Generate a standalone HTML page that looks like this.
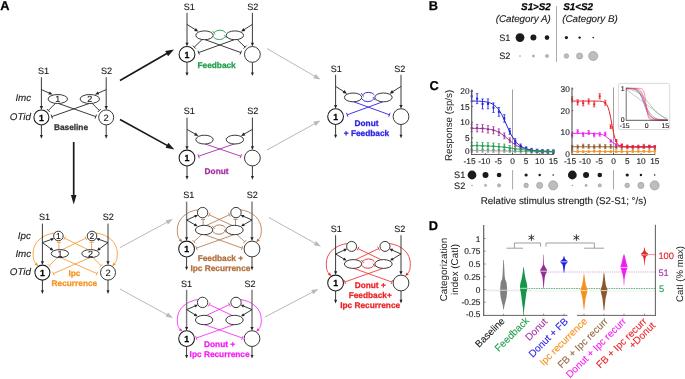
<!DOCTYPE html>
<html><head><meta charset="utf-8"><title>Figure</title>
<style>html,body{margin:0;padding:0;background:#fff;overflow:hidden}body{width:685px;height:379px;font-family:"Liberation Sans",sans-serif}svg{display:block;will-change:transform}text{font-family:"Liberation Sans",sans-serif;text-rendering:geometricPrecision}</style></head>
<body>
<svg width="685" height="379" viewBox="0 0 685 379" font-family="Liberation Sans, sans-serif">
<rect width="685" height="379" fill="#fff"/>
<text x="0.3" y="9.8" font-size="12.8" text-anchor="start" font-weight="bold" font-style="normal" fill="#000" stroke="#000" stroke-width="0.25" >A</text>
<text x="43.6" y="74" font-size="9.1" text-anchor="middle" font-weight="normal" font-style="normal" fill="#1a1a1a" stroke="#1a1a1a" stroke-width="0.12" >S1</text>
<text x="106.5" y="74" font-size="9.1" text-anchor="middle" font-weight="normal" font-style="normal" fill="#1a1a1a" stroke="#1a1a1a" stroke-width="0.12" >S2</text>
<line x1="58.2" y1="103.4" x2="95.8" y2="116.6" stroke="#242424" stroke-width="0.9" />
<line x1="95.1" y1="118.58" x2="96.5" y2="114.62" stroke="#242424" stroke-width="0.9" />
<line x1="89.4" y1="103.4" x2="51.8" y2="116.6" stroke="#242424" stroke-width="0.9" />
<line x1="51.1" y1="114.62" x2="52.5" y2="118.58" stroke="#242424" stroke-width="0.9" />
<line x1="55.6" y1="103.2" x2="48.3" y2="110.5" stroke="#242424" stroke-width="0.9" />
<line x1="46.82" y1="109.02" x2="49.78" y2="111.98" stroke="#242424" stroke-width="0.9" />
<line x1="92" y1="103.2" x2="99.3" y2="110.5" stroke="#242424" stroke-width="0.9" />
<line x1="97.82" y1="111.98" x2="100.78" y2="109.02" stroke="#242424" stroke-width="0.9" />
<line x1="41.4" y1="77.2" x2="41.4" y2="106.9" stroke="#242424" stroke-width="0.9" />
<line x1="106.2" y1="77.2" x2="106.2" y2="106.9" stroke="#242424" stroke-width="0.9" />
<polygon points="41.4,109.9 39.8,106.1 43,106.1" fill="#242424"/>
<polygon points="106.2,109.9 104.6,106.1 107.8,106.1" fill="#242424"/>
<line x1="41.4" y1="89.6" x2="49.77" y2="93.31" stroke="#242424" stroke-width="0.9" />
<polygon points="52.7,94.6 48.35,94.54 49.73,91.43" fill="#242424"/>
<line x1="106.2" y1="89.6" x2="97.83" y2="93.31" stroke="#242424" stroke-width="0.9" />
<polygon points="94.9,94.6 97.87,91.43 99.25,94.54" fill="#242424"/>
<line x1="41.4" y1="124.9" x2="41.4" y2="135.82" stroke="#242424" stroke-width="0.9" />
<polygon points="41.4,138.7 39.9,135.1 42.9,135.1" fill="#242424"/>
<line x1="106.2" y1="124.9" x2="106.2" y2="135.82" stroke="#242424" stroke-width="0.9" />
<polygon points="106.2,138.7 104.7,135.1 107.7,135.1" fill="#242424"/>
<ellipse cx="57.8" cy="99" rx="9.7" ry="4.5" fill="#fff" stroke="#242424" stroke-width="0.9"/>
<ellipse cx="89.8" cy="99" rx="9.7" ry="4.5" fill="#fff" stroke="#242424" stroke-width="0.9"/>
<circle cx="41.4" cy="117.4" r="7.5" fill="#fff" stroke="#1c1c1c" stroke-width="1.05"/>
<circle cx="106.2" cy="117.4" r="7.5" fill="#fff" stroke="#242424" stroke-width="0.9"/>
<text x="41.4" y="120.5" font-size="8.8" text-anchor="middle" font-weight="bold" font-style="normal" fill="#000" stroke="#000" stroke-width="0.25" >1</text>
<text x="106.2" y="120.7" font-size="9.4" text-anchor="middle" font-weight="normal" font-style="normal" fill="#1a1a1a" stroke="#1a1a1a" stroke-width="0.12" >2</text>
<text x="57.8" y="102.1" font-size="9.0" text-anchor="middle" font-weight="normal" font-style="normal" fill="#1a1a1a" stroke="#1a1a1a" stroke-width="0.12" >1</text>
<text x="89.8" y="102.1" font-size="9.0" text-anchor="middle" font-weight="normal" font-style="normal" fill="#1a1a1a" stroke="#1a1a1a" stroke-width="0.12" >2</text>
<text x="71" y="129.6" font-size="8.3" text-anchor="middle" font-weight="bold" font-style="normal" fill="#333" stroke="#333" stroke-width="0.25" >Baseline</text>
<text x="15.4" y="101" font-size="9.8" text-anchor="start" font-weight="normal" font-style="italic" fill="#1a1a1a" stroke="#1a1a1a" stroke-width="0.12" >Imc</text>
<text x="9.8" y="120.4" font-size="9.8" text-anchor="start" font-weight="normal" font-style="italic" fill="#1a1a1a" stroke="#1a1a1a" stroke-width="0.12" >OTid</text>
<text x="189.2" y="9.6" font-size="9.1" text-anchor="middle" font-weight="normal" font-style="normal" fill="#1a1a1a" stroke="#1a1a1a" stroke-width="0.12" >S1</text>
<text x="252.7" y="9.6" font-size="9.1" text-anchor="middle" font-weight="normal" font-style="normal" fill="#1a1a1a" stroke="#1a1a1a" stroke-width="0.12" >S2</text>
<line x1="204.9" y1="39.6" x2="240.8" y2="52.6" stroke="#242424" stroke-width="0.9" />
<line x1="240.08" y1="54.57" x2="241.52" y2="50.63" stroke="#242424" stroke-width="0.9" />
<line x1="234.5" y1="39.6" x2="198.6" y2="52.6" stroke="#242424" stroke-width="0.9" />
<line x1="197.88" y1="50.63" x2="199.32" y2="54.57" stroke="#242424" stroke-width="0.9" />
<line x1="202.3" y1="39.4" x2="194.3" y2="47.1" stroke="#242424" stroke-width="0.9" />
<line x1="192.84" y1="45.59" x2="195.76" y2="48.61" stroke="#242424" stroke-width="0.9" />
<line x1="237.1" y1="39.4" x2="245.1" y2="47.1" stroke="#242424" stroke-width="0.9" />
<line x1="243.64" y1="48.61" x2="246.56" y2="45.59" stroke="#242424" stroke-width="0.9" />
<line x1="187" y1="12.8" x2="187" y2="43.5" stroke="#242424" stroke-width="0.9" />
<line x1="252.4" y1="12.8" x2="252.4" y2="43.5" stroke="#242424" stroke-width="0.9" />
<polygon points="187,46.5 185.4,42.7 188.6,42.7" fill="#242424"/>
<polygon points="252.4,46.5 250.8,42.7 254,42.7" fill="#242424"/>
<line x1="187" y1="24.4" x2="195.69" y2="29.89" stroke="#242424" stroke-width="0.9" />
<polygon points="198.4,31.6 194.11,30.9 195.93,28.03" fill="#242424"/>
<line x1="252.4" y1="24.4" x2="243.71" y2="29.89" stroke="#242424" stroke-width="0.9" />
<polygon points="241,31.6 243.47,28.03 245.29,30.9" fill="#242424"/>
<line x1="187" y1="62.3" x2="187" y2="73.22" stroke="#242424" stroke-width="0.9" />
<polygon points="187,76.1 185.5,72.5 188.5,72.5" fill="#242424"/>
<line x1="252.4" y1="62.3" x2="252.4" y2="73.22" stroke="#242424" stroke-width="0.9" />
<polygon points="252.4,76.1 250.9,72.5 253.9,72.5" fill="#242424"/>
<ellipse cx="204.5" cy="35.3" rx="8.7" ry="4.4" fill="#fff" stroke="#242424" stroke-width="0.9"/>
<ellipse cx="234.9" cy="35.3" rx="8.7" ry="4.4" fill="#fff" stroke="#242424" stroke-width="0.9"/>
<path d="M225.8,32.9 A6.6,4.9 0 0 0 214.3,32.5" fill="none" stroke="#1f9e4d" stroke-width="0.9" />
<line x1="212.7" y1="31.1" x2="215" y2="34.4" stroke="#1f9e4d" stroke-width="0.9" />
<path d="M213.4,37 A6.6,4.9 0 0 0 225.1,36.9" fill="none" stroke="#1f9e4d" stroke-width="0.9" />
<line x1="224.3" y1="34.9" x2="226.6" y2="38.1" stroke="#1f9e4d" stroke-width="0.9" />
<circle cx="187" cy="54.4" r="7.9" fill="#fff" stroke="#1c1c1c" stroke-width="1.05"/>
<circle cx="252.4" cy="54.4" r="7.9" fill="#fff" stroke="#242424" stroke-width="0.9"/>
<text x="187" y="57.5" font-size="8.8" text-anchor="middle" font-weight="bold" font-style="normal" fill="#000" stroke="#000" stroke-width="0.25" >1</text>
<text x="216.6" y="68.1" font-size="8.3" text-anchor="middle" font-weight="bold" font-style="normal" fill="#1f9e4d" stroke="#1f9e4d" stroke-width="0.25" >Feedback</text>
<text x="189.2" y="114.4" font-size="9.1" text-anchor="middle" font-weight="normal" font-style="normal" fill="#1a1a1a" stroke="#1a1a1a" stroke-width="0.12" >S1</text>
<text x="252.7" y="114.4" font-size="9.1" text-anchor="middle" font-weight="normal" font-style="normal" fill="#1a1a1a" stroke="#1a1a1a" stroke-width="0.12" >S2</text>
<line x1="204.9" y1="143.9" x2="240.8" y2="156.2" stroke="#a12fa3" stroke-width="0.9" />
<line x1="240.12" y1="158.19" x2="241.48" y2="154.21" stroke="#a12fa3" stroke-width="0.9" />
<line x1="234.5" y1="143.9" x2="198.6" y2="156.2" stroke="#a12fa3" stroke-width="0.9" />
<line x1="197.92" y1="154.21" x2="199.28" y2="158.19" stroke="#a12fa3" stroke-width="0.9" />
<line x1="187" y1="117.6" x2="187" y2="147.1" stroke="#242424" stroke-width="0.9" />
<line x1="252.4" y1="117.6" x2="252.4" y2="147.1" stroke="#242424" stroke-width="0.9" />
<polygon points="187,150.1 185.4,146.3 188.6,146.3" fill="#242424"/>
<polygon points="252.4,150.1 250.8,146.3 254,146.3" fill="#242424"/>
<line x1="187" y1="129.4" x2="195.62" y2="134.31" stroke="#242424" stroke-width="0.9" />
<polygon points="198.4,135.9 194.08,135.4 195.77,132.44" fill="#242424"/>
<line x1="252.4" y1="129.4" x2="243.78" y2="134.31" stroke="#242424" stroke-width="0.9" />
<polygon points="241,135.9 243.63,132.44 245.32,135.4" fill="#242424"/>
<line x1="187" y1="165.9" x2="187" y2="176.82" stroke="#242424" stroke-width="0.9" />
<polygon points="187,179.7 185.5,176.1 188.5,176.1" fill="#242424"/>
<line x1="252.4" y1="165.9" x2="252.4" y2="176.82" stroke="#242424" stroke-width="0.9" />
<polygon points="252.4,179.7 250.9,176.1 253.9,176.1" fill="#242424"/>
<ellipse cx="204.5" cy="139.6" rx="8.7" ry="4.4" fill="#fff" stroke="#242424" stroke-width="0.9"/>
<ellipse cx="234.9" cy="139.6" rx="8.7" ry="4.4" fill="#fff" stroke="#242424" stroke-width="0.9"/>
<circle cx="187" cy="158" r="7.9" fill="#fff" stroke="#1c1c1c" stroke-width="1.05"/>
<circle cx="252.4" cy="158" r="7.9" fill="#fff" stroke="#242424" stroke-width="0.9"/>
<text x="187" y="161.1" font-size="8.8" text-anchor="middle" font-weight="bold" font-style="normal" fill="#000" stroke="#000" stroke-width="0.25" >1</text>
<text x="216.6" y="174.4" font-size="8.3" text-anchor="middle" font-weight="bold" font-style="normal" fill="#a12fa3" stroke="#a12fa3" stroke-width="0.25" >Donut</text>
<text x="336.3" y="71.6" font-size="9.1" text-anchor="middle" font-weight="normal" font-style="normal" fill="#1a1a1a" stroke="#1a1a1a" stroke-width="0.12" >S1</text>
<text x="399.8" y="71.6" font-size="9.1" text-anchor="middle" font-weight="normal" font-style="normal" fill="#1a1a1a" stroke="#1a1a1a" stroke-width="0.12" >S2</text>
<line x1="353.5" y1="101.7" x2="389.4" y2="114.8" stroke="#2a22e6" stroke-width="0.9" />
<line x1="388.68" y1="116.77" x2="390.12" y2="112.83" stroke="#2a22e6" stroke-width="0.9" />
<line x1="383.1" y1="101.7" x2="347.2" y2="114.8" stroke="#2a22e6" stroke-width="0.9" />
<line x1="346.48" y1="112.83" x2="347.92" y2="116.77" stroke="#2a22e6" stroke-width="0.9" />
<line x1="335.6" y1="74.8" x2="335.6" y2="105.7" stroke="#242424" stroke-width="0.9" />
<line x1="401" y1="74.8" x2="401" y2="105.7" stroke="#242424" stroke-width="0.9" />
<polygon points="335.6,108.7 334,104.9 337.2,104.9" fill="#242424"/>
<polygon points="401,108.7 399.4,104.9 402.6,104.9" fill="#242424"/>
<line x1="335.6" y1="86.4" x2="344.31" y2="91.97" stroke="#242424" stroke-width="0.9" />
<polygon points="347,93.7 342.71,92.97 344.55,90.11" fill="#242424"/>
<line x1="401" y1="86.4" x2="392.29" y2="91.97" stroke="#242424" stroke-width="0.9" />
<polygon points="389.6,93.7 392.05,90.11 393.89,92.97" fill="#242424"/>
<line x1="335.6" y1="124.5" x2="335.6" y2="135.42" stroke="#242424" stroke-width="0.9" />
<polygon points="335.6,138.3 334.1,134.7 337.1,134.7" fill="#242424"/>
<line x1="401" y1="124.5" x2="401" y2="135.42" stroke="#242424" stroke-width="0.9" />
<polygon points="401,138.3 399.5,134.7 402.5,134.7" fill="#242424"/>
<ellipse cx="353.1" cy="97.4" rx="8.7" ry="4.4" fill="#fff" stroke="#242424" stroke-width="0.9"/>
<ellipse cx="383.5" cy="97.4" rx="8.7" ry="4.4" fill="#fff" stroke="#242424" stroke-width="0.9"/>
<path d="M374.4,95 A6.6,4.9 0 0 0 362.9,94.6" fill="none" stroke="#2a22e6" stroke-width="0.9" />
<line x1="361.3" y1="93.2" x2="363.6" y2="96.5" stroke="#2a22e6" stroke-width="0.9" />
<path d="M362,99.1 A6.6,4.9 0 0 0 373.7,99" fill="none" stroke="#2a22e6" stroke-width="0.9" />
<line x1="372.9" y1="97" x2="375.2" y2="100.2" stroke="#2a22e6" stroke-width="0.9" />
<circle cx="335.6" cy="116.6" r="7.9" fill="#fff" stroke="#1c1c1c" stroke-width="1.05"/>
<circle cx="401" cy="116.6" r="7.9" fill="#fff" stroke="#242424" stroke-width="0.9"/>
<text x="335.6" y="119.7" font-size="8.8" text-anchor="middle" font-weight="bold" font-style="normal" fill="#000" stroke="#000" stroke-width="0.25" >1</text>
<text x="366.5" y="126" font-size="8.3" text-anchor="middle" font-weight="bold" font-style="normal" fill="#2a22e6" stroke="#2a22e6" stroke-width="0.25" >Donut</text>
<text x="366.5" y="136" font-size="8.3" text-anchor="middle" font-weight="bold" font-style="normal" fill="#2a22e6" stroke="#2a22e6" stroke-width="0.25" >+ Feedback</text>
<text x="44.6" y="220.4" font-size="9.1" text-anchor="middle" font-weight="normal" font-style="normal" fill="#1a1a1a" stroke="#1a1a1a" stroke-width="0.12" >S1</text>
<text x="108.3" y="220.4" font-size="9.1" text-anchor="middle" font-weight="normal" font-style="normal" fill="#1a1a1a" stroke="#1a1a1a" stroke-width="0.12" >S2</text>
<path d="M54.9,233 C41.4,234.5 33.1,243 33.1,253.1 C33.1,260.1 34.4,262.1 36.6,264.5" fill="none" stroke="#f6921e" stroke-width="0.8" />
<polygon points="38.2,266 34.69,264.77 36.75,262.58" fill="#f6921e"/>
<path d="M95.5,233 C109,234.5 117.3,243 117.3,253.1 C117.3,260.1 116,262.1 113.8,264.5" fill="none" stroke="#f6921e" stroke-width="0.8" />
<polygon points="112.2,266 113.65,262.58 115.71,264.77" fill="#f6921e"/>
<line x1="61.9" y1="249.9" x2="85.8" y2="238.2" stroke="#f6921e" stroke-width="0.8" />
<line x1="86.72" y1="240.09" x2="84.88" y2="236.31" stroke="#f6921e" stroke-width="0.8" />
<line x1="88.5" y1="249.9" x2="64.6" y2="238.2" stroke="#f6921e" stroke-width="0.8" />
<line x1="65.52" y1="236.31" x2="63.68" y2="240.09" stroke="#f6921e" stroke-width="0.8" />
<line x1="58.9" y1="249.6" x2="58.9" y2="242.4" stroke="#f6921e" stroke-width="0.8" />
<line x1="61" y1="242.4" x2="56.8" y2="242.4" stroke="#f6921e" stroke-width="0.8" />
<line x1="91.5" y1="249.6" x2="91.5" y2="242.4" stroke="#f6921e" stroke-width="0.8" />
<line x1="93.6" y1="242.4" x2="89.4" y2="242.4" stroke="#f6921e" stroke-width="0.8" />
<line x1="60.3" y1="257.5" x2="97" y2="273.6" stroke="#f6921e" stroke-width="0.8" />
<line x1="96.16" y1="275.52" x2="97.84" y2="271.68" stroke="#f6921e" stroke-width="0.8" />
<line x1="90.1" y1="257.5" x2="53.4" y2="273.6" stroke="#f6921e" stroke-width="0.8" />
<line x1="52.56" y1="271.68" x2="54.24" y2="275.52" stroke="#f6921e" stroke-width="0.8" />
<line x1="57.7" y1="257.3" x2="49.3" y2="265.7" stroke="#f6921e" stroke-width="0.8" />
<line x1="47.82" y1="264.22" x2="50.78" y2="267.18" stroke="#f6921e" stroke-width="0.8" />
<line x1="92.7" y1="257.3" x2="101.1" y2="265.7" stroke="#f6921e" stroke-width="0.8" />
<line x1="99.62" y1="267.18" x2="102.58" y2="264.22" stroke="#f6921e" stroke-width="0.8" />
<line x1="42.4" y1="223.6" x2="42.4" y2="262.1" stroke="#242424" stroke-width="0.9" />
<line x1="108" y1="223.6" x2="108" y2="262.1" stroke="#242424" stroke-width="0.9" />
<polygon points="42.4,265.1 40.8,261.3 44,261.3" fill="#242424"/>
<polygon points="108,265.1 106.4,261.3 109.6,261.3" fill="#242424"/>
<line x1="42.4" y1="242.6" x2="51.64" y2="239.31" stroke="#242424" stroke-width="0.9" />
<polygon points="54.2,238.4 51.53,241.05 50.46,238.03" fill="#242424"/>
<line x1="108" y1="242.6" x2="98.76" y2="239.31" stroke="#242424" stroke-width="0.9" />
<polygon points="96.2,238.4 99.94,238.03 98.87,241.05" fill="#242424"/>
<line x1="42.4" y1="242.6" x2="51.2" y2="249" stroke="#242424" stroke-width="0.9" />
<polygon points="53.4,250.6 49.71,249.89 51.59,247.31" fill="#242424"/>
<line x1="108" y1="242.6" x2="99.2" y2="249" stroke="#242424" stroke-width="0.9" />
<polygon points="97,250.6 98.81,247.31 100.69,249.89" fill="#242424"/>
<line x1="42.4" y1="280.1" x2="42.4" y2="291.02" stroke="#242424" stroke-width="0.9" />
<polygon points="42.4,293.9 40.9,290.3 43.9,290.3" fill="#242424"/>
<line x1="108" y1="280.1" x2="108" y2="291.02" stroke="#242424" stroke-width="0.9" />
<polygon points="108,293.9 106.5,290.3 109.5,290.3" fill="#242424"/>
<ellipse cx="59.9" cy="253.6" rx="8.7" ry="4" fill="#fff" stroke="#242424" stroke-width="0.9"/>
<ellipse cx="90.5" cy="253.6" rx="8.7" ry="4" fill="#fff" stroke="#242424" stroke-width="0.9"/>
<circle cx="58.4" cy="236" r="4.8" fill="#fff" stroke="#242424" stroke-width="0.9"/>
<circle cx="92" cy="236" r="4.8" fill="#fff" stroke="#242424" stroke-width="0.9"/>
<circle cx="42.4" cy="272.6" r="7.5" fill="#fff" stroke="#1c1c1c" stroke-width="1.05"/>
<circle cx="108" cy="272.6" r="7.5" fill="#fff" stroke="#242424" stroke-width="0.9"/>
<text x="42.4" y="275.7" font-size="8.8" text-anchor="middle" font-weight="bold" font-style="normal" fill="#000" stroke="#000" stroke-width="0.25" >1</text>
<text x="108" y="275.9" font-size="9.4" text-anchor="middle" font-weight="normal" font-style="normal" fill="#1a1a1a" stroke="#1a1a1a" stroke-width="0.12" >2</text>
<text x="59.9" y="256.7" font-size="9.0" text-anchor="middle" font-weight="normal" font-style="normal" fill="#1a1a1a" stroke="#1a1a1a" stroke-width="0.12" >1</text>
<text x="90.5" y="256.7" font-size="9.0" text-anchor="middle" font-weight="normal" font-style="normal" fill="#1a1a1a" stroke="#1a1a1a" stroke-width="0.12" >2</text>
<text x="58.4" y="239" font-size="8.6" text-anchor="middle" font-weight="normal" font-style="normal" fill="#1a1a1a" stroke="#1a1a1a" stroke-width="0.12" >1</text>
<text x="92" y="239" font-size="8.6" text-anchor="middle" font-weight="normal" font-style="normal" fill="#1a1a1a" stroke="#1a1a1a" stroke-width="0.12" >2</text>
<text x="74.4" y="276.4" font-size="8.3" text-anchor="middle" font-weight="bold" font-style="normal" fill="#f6921e" stroke="#f6921e" stroke-width="0.25" >Ipc</text>
<text x="74.4" y="286.4" font-size="8.3" text-anchor="middle" font-weight="bold" font-style="normal" fill="#f6921e" stroke="#f6921e" stroke-width="0.25" >Recurrence</text>
<text x="17.8" y="239" font-size="9.8" text-anchor="start" font-weight="normal" font-style="italic" fill="#1a1a1a" stroke="#1a1a1a" stroke-width="0.12" >Ipc</text>
<text x="15.4" y="256.6" font-size="9.8" text-anchor="start" font-weight="normal" font-style="italic" fill="#1a1a1a" stroke="#1a1a1a" stroke-width="0.12" >Imc</text>
<text x="9.8" y="275" font-size="9.8" text-anchor="start" font-weight="normal" font-style="italic" fill="#1a1a1a" stroke="#1a1a1a" stroke-width="0.12" >OTid</text>
<text x="188.8" y="198.4" font-size="9.1" text-anchor="middle" font-weight="normal" font-style="normal" fill="#1a1a1a" stroke="#1a1a1a" stroke-width="0.12" >S1</text>
<text x="252.3" y="198.4" font-size="9.1" text-anchor="middle" font-weight="normal" font-style="normal" fill="#1a1a1a" stroke="#1a1a1a" stroke-width="0.12" >S2</text>
<path d="M199.1,209.6 C185.6,211.1 177.3,219.6 177.3,229.5 C177.3,236.5 178.6,238.1 180.8,240.5" fill="none" stroke="#b06f3d" stroke-width="0.8" />
<polygon points="182.4,242 178.89,240.77 180.95,238.58" fill="#b06f3d"/>
<path d="M239.5,209.6 C253,211.1 261.3,219.6 261.3,229.5 C261.3,236.5 260,238.1 257.8,240.5" fill="none" stroke="#b06f3d" stroke-width="0.8" />
<polygon points="256.2,242 257.65,238.58 259.71,240.77" fill="#b06f3d"/>
<line x1="206.1" y1="225.6" x2="229.4" y2="214.8" stroke="#b06f3d" stroke-width="0.8" />
<line x1="230.28" y1="216.71" x2="228.52" y2="212.89" stroke="#b06f3d" stroke-width="0.8" />
<line x1="232.5" y1="225.6" x2="209.2" y2="214.8" stroke="#b06f3d" stroke-width="0.8" />
<line x1="210.08" y1="212.89" x2="208.32" y2="216.71" stroke="#b06f3d" stroke-width="0.8" />
<line x1="203.1" y1="225.3" x2="203.1" y2="219.4" stroke="#b06f3d" stroke-width="0.8" />
<line x1="205.2" y1="219.4" x2="201" y2="219.4" stroke="#b06f3d" stroke-width="0.8" />
<line x1="235.5" y1="225.3" x2="235.5" y2="219.4" stroke="#b06f3d" stroke-width="0.8" />
<line x1="237.6" y1="219.4" x2="233.4" y2="219.4" stroke="#b06f3d" stroke-width="0.8" />
<line x1="204.5" y1="234.6" x2="242.1" y2="248.1" stroke="#b06f3d" stroke-width="0.8" />
<line x1="241.39" y1="250.08" x2="242.81" y2="246.12" stroke="#b06f3d" stroke-width="0.8" />
<line x1="234.1" y1="234.6" x2="196.5" y2="248.1" stroke="#b06f3d" stroke-width="0.8" />
<line x1="195.79" y1="246.12" x2="197.21" y2="250.08" stroke="#b06f3d" stroke-width="0.8" />
<line x1="201.9" y1="234.4" x2="193.9" y2="241.7" stroke="#b06f3d" stroke-width="0.8" />
<line x1="192.48" y1="240.15" x2="195.32" y2="243.25" stroke="#b06f3d" stroke-width="0.8" />
<line x1="236.7" y1="234.4" x2="244.7" y2="241.7" stroke="#b06f3d" stroke-width="0.8" />
<line x1="243.28" y1="243.25" x2="246.12" y2="240.15" stroke="#b06f3d" stroke-width="0.8" />
<line x1="186.6" y1="201.6" x2="186.6" y2="238.1" stroke="#777" stroke-width="1.4" />
<line x1="252" y1="201.6" x2="252" y2="238.1" stroke="#777" stroke-width="1.4" />
<polygon points="186.6,241.1 185,237.3 188.2,237.3" fill="#242424"/>
<polygon points="252,241.1 250.4,237.3 253.6,237.3" fill="#242424"/>
<line x1="186.6" y1="220" x2="195.51" y2="216.09" stroke="#242424" stroke-width="0.9" />
<polygon points="198,215 195.53,217.83 194.24,214.9" fill="#242424"/>
<line x1="252" y1="220" x2="243.09" y2="216.09" stroke="#242424" stroke-width="0.9" />
<polygon points="240.6,215 244.36,214.9 243.07,217.83" fill="#242424"/>
<line x1="186.6" y1="220" x2="195.24" y2="224.95" stroke="#242424" stroke-width="0.9" />
<polygon points="197.6,226.3 193.85,226 195.44,223.22" fill="#242424"/>
<line x1="252" y1="220" x2="243.36" y2="224.95" stroke="#242424" stroke-width="0.9" />
<polygon points="241,226.3 243.16,223.22 244.75,226" fill="#242424"/>
<line x1="186.6" y1="256.9" x2="186.6" y2="267.42" stroke="#242424" stroke-width="0.9" />
<polygon points="186.6,270.3 185.1,266.7 188.1,266.7" fill="#242424"/>
<line x1="252" y1="256.9" x2="252" y2="267.42" stroke="#242424" stroke-width="0.9" />
<polygon points="252,270.3 250.5,266.7 253.5,266.7" fill="#242424"/>
<ellipse cx="204.1" cy="230" rx="8.7" ry="4.7" fill="#fff" stroke="#242424" stroke-width="0.9"/>
<ellipse cx="234.5" cy="230" rx="8.7" ry="4.7" fill="#fff" stroke="#242424" stroke-width="0.9"/>
<circle cx="202.6" cy="212.6" r="5.2" fill="#fff" stroke="#242424" stroke-width="0.9"/>
<circle cx="236" cy="212.6" r="5.2" fill="#fff" stroke="#242424" stroke-width="0.9"/>
<path d="M225.4,227.6 A6.6,4.9 0 0 0 213.9,227.2" fill="none" stroke="#b06f3d" stroke-width="0.9" />
<line x1="212.3" y1="225.8" x2="214.6" y2="229.1" stroke="#b06f3d" stroke-width="0.9" />
<path d="M213,231.7 A6.6,4.9 0 0 0 224.7,231.6" fill="none" stroke="#b06f3d" stroke-width="0.9" />
<line x1="223.9" y1="229.6" x2="226.2" y2="232.8" stroke="#b06f3d" stroke-width="0.9" />
<circle cx="186.6" cy="249" r="7.9" fill="#fff" stroke="#1c1c1c" stroke-width="1.05"/>
<circle cx="252" cy="249" r="7.9" fill="#fff" stroke="#242424" stroke-width="0.9"/>
<text x="186.6" y="252.1" font-size="8.8" text-anchor="middle" font-weight="bold" font-style="normal" fill="#000" stroke="#000" stroke-width="0.25" >1</text>
<text x="220.4" y="260.8" font-size="8.3" text-anchor="middle" font-weight="bold" font-style="normal" fill="#b06f3d" stroke="#b06f3d" stroke-width="0.25" >Feedback +</text>
<text x="220.4" y="270.8" font-size="8.3" text-anchor="middle" font-weight="bold" font-style="normal" fill="#b06f3d" stroke="#b06f3d" stroke-width="0.25" >Ipc Recurrence</text>
<text x="186.6" y="286.6" font-size="9.1" text-anchor="middle" font-weight="normal" font-style="normal" fill="#1a1a1a" stroke="#1a1a1a" stroke-width="0.12" >S1</text>
<text x="250.1" y="286.6" font-size="9.1" text-anchor="middle" font-weight="normal" font-style="normal" fill="#1a1a1a" stroke="#1a1a1a" stroke-width="0.12" >S2</text>
<path d="M199.1,299.4 C185.6,300.9 177.3,309.4 177.3,319.5 C177.3,326.5 178.6,327.7 180.8,330.1" fill="none" stroke="#f31cf3" stroke-width="0.8" />
<polygon points="182.4,331.6 178.89,330.37 180.95,328.18" fill="#f31cf3"/>
<path d="M239.5,299.4 C253,300.9 261.3,309.4 261.3,319.5 C261.3,326.5 260,327.7 257.8,330.1" fill="none" stroke="#f31cf3" stroke-width="0.8" />
<polygon points="256.2,331.6 257.65,328.18 259.71,330.37" fill="#f31cf3"/>
<line x1="206.1" y1="315.6" x2="229.4" y2="304.6" stroke="#f31cf3" stroke-width="0.8" />
<line x1="230.3" y1="306.5" x2="228.5" y2="302.7" stroke="#f31cf3" stroke-width="0.8" />
<line x1="232.5" y1="315.6" x2="209.2" y2="304.6" stroke="#f31cf3" stroke-width="0.8" />
<line x1="210.1" y1="302.7" x2="208.3" y2="306.5" stroke="#f31cf3" stroke-width="0.8" />
<line x1="204.5" y1="324.6" x2="242.3" y2="338" stroke="#f31cf3" stroke-width="0.8" />
<line x1="241.6" y1="339.98" x2="243" y2="336.02" stroke="#f31cf3" stroke-width="0.8" />
<line x1="234.1" y1="324.6" x2="196.3" y2="338" stroke="#f31cf3" stroke-width="0.8" />
<line x1="195.6" y1="336.02" x2="197" y2="339.98" stroke="#f31cf3" stroke-width="0.8" />
<line x1="186.6" y1="289.8" x2="186.6" y2="327.7" stroke="#777" stroke-width="1.4" />
<line x1="252" y1="289.8" x2="252" y2="327.7" stroke="#777" stroke-width="1.4" />
<polygon points="186.6,330.7 185,326.9 188.2,326.9" fill="#242424"/>
<polygon points="252,330.7 250.4,326.9 253.6,326.9" fill="#242424"/>
<line x1="186.6" y1="309.6" x2="195.49" y2="305.86" stroke="#242424" stroke-width="0.9" />
<polygon points="198,304.8 195.49,307.59 194.25,304.64" fill="#242424"/>
<line x1="252" y1="309.6" x2="243.11" y2="305.86" stroke="#242424" stroke-width="0.9" />
<polygon points="240.6,304.8 244.35,304.64 243.11,307.59" fill="#242424"/>
<line x1="186.6" y1="309.6" x2="195.28" y2="314.89" stroke="#242424" stroke-width="0.9" />
<polygon points="197.6,316.3 193.86,315.9 195.53,313.16" fill="#242424"/>
<line x1="252" y1="309.6" x2="243.32" y2="314.89" stroke="#242424" stroke-width="0.9" />
<polygon points="241,316.3 243.07,313.16 244.74,315.9" fill="#242424"/>
<line x1="186.6" y1="346.5" x2="186.6" y2="355.62" stroke="#242424" stroke-width="0.9" />
<polygon points="186.6,358.5 185.1,354.9 188.1,354.9" fill="#242424"/>
<line x1="252" y1="346.5" x2="252" y2="355.62" stroke="#242424" stroke-width="0.9" />
<polygon points="252,358.5 250.5,354.9 253.5,354.9" fill="#242424"/>
<ellipse cx="204.1" cy="320" rx="8.7" ry="4.7" fill="#fff" stroke="#242424" stroke-width="0.9"/>
<ellipse cx="234.5" cy="320" rx="8.7" ry="4.7" fill="#fff" stroke="#242424" stroke-width="0.9"/>
<circle cx="202.6" cy="302.4" r="5.2" fill="#fff" stroke="#242424" stroke-width="0.9"/>
<circle cx="236" cy="302.4" r="5.2" fill="#fff" stroke="#242424" stroke-width="0.9"/>
<circle cx="186.6" cy="338.6" r="7.9" fill="#fff" stroke="#1c1c1c" stroke-width="1.05"/>
<circle cx="252" cy="338.6" r="7.9" fill="#fff" stroke="#242424" stroke-width="0.9"/>
<text x="186.6" y="341.7" font-size="8.8" text-anchor="middle" font-weight="bold" font-style="normal" fill="#000" stroke="#000" stroke-width="0.25" >1</text>
<text x="219.6" y="346.6" font-size="8.3" text-anchor="middle" font-weight="bold" font-style="normal" fill="#f31cf3" stroke="#f31cf3" stroke-width="0.25" >Donut +</text>
<text x="219.6" y="356.6" font-size="8.3" text-anchor="middle" font-weight="bold" font-style="normal" fill="#f31cf3" stroke="#f31cf3" stroke-width="0.25" >Ipc Recurrence</text>
<text x="336.3" y="232" font-size="9.1" text-anchor="middle" font-weight="normal" font-style="normal" fill="#1a1a1a" stroke="#1a1a1a" stroke-width="0.12" >S1</text>
<text x="399.8" y="232" font-size="9.1" text-anchor="middle" font-weight="normal" font-style="normal" fill="#1a1a1a" stroke="#1a1a1a" stroke-width="0.12" >S2</text>
<path d="M348.1,243.4 C334.6,244.9 326.3,253.4 326.3,263.5 C326.3,270.5 327.6,272.1 329.8,274.5" fill="none" stroke="#ea2227" stroke-width="0.8" />
<polygon points="331.4,276 327.89,274.77 329.95,272.58" fill="#ea2227"/>
<path d="M388.5,243.4 C402,244.9 410.3,253.4 410.3,263.5 C410.3,270.5 409,272.1 406.8,274.5" fill="none" stroke="#ea2227" stroke-width="0.8" />
<polygon points="405.2,276 406.65,272.58 408.71,274.77" fill="#ea2227"/>
<line x1="355.1" y1="259.9" x2="378.6" y2="248.6" stroke="#ea2227" stroke-width="0.8" />
<line x1="379.51" y1="250.49" x2="377.69" y2="246.71" stroke="#ea2227" stroke-width="0.8" />
<line x1="381.5" y1="259.9" x2="358" y2="248.6" stroke="#ea2227" stroke-width="0.8" />
<line x1="358.91" y1="246.71" x2="357.09" y2="250.49" stroke="#ea2227" stroke-width="0.8" />
<line x1="353.5" y1="268.3" x2="391.8" y2="282" stroke="#ea2227" stroke-width="0.8" />
<line x1="391.09" y1="283.98" x2="392.51" y2="280.02" stroke="#ea2227" stroke-width="0.8" />
<line x1="383.1" y1="268.3" x2="344.8" y2="282" stroke="#ea2227" stroke-width="0.8" />
<line x1="344.09" y1="280.02" x2="345.51" y2="283.98" stroke="#ea2227" stroke-width="0.8" />
<line x1="335.6" y1="235.2" x2="335.6" y2="272.1" stroke="#242424" stroke-width="0.9" />
<line x1="401" y1="235.2" x2="401" y2="272.1" stroke="#242424" stroke-width="0.9" />
<polygon points="335.6,275.1 334,271.3 337.2,271.3" fill="#242424"/>
<polygon points="401,275.1 399.4,271.3 402.6,271.3" fill="#242424"/>
<line x1="335.6" y1="254" x2="344.72" y2="249.91" stroke="#242424" stroke-width="0.9" />
<polygon points="347.2,248.8 344.75,251.65 343.44,248.73" fill="#242424"/>
<line x1="401" y1="254" x2="391.88" y2="249.91" stroke="#242424" stroke-width="0.9" />
<polygon points="389.4,248.8 393.16,248.73 391.85,251.65" fill="#242424"/>
<line x1="335.6" y1="254" x2="344.27" y2="259.2" stroke="#242424" stroke-width="0.9" />
<polygon points="346.6,260.6 342.86,260.22 344.51,257.48" fill="#242424"/>
<line x1="401" y1="254" x2="392.33" y2="259.2" stroke="#242424" stroke-width="0.9" />
<polygon points="390,260.6 392.09,257.48 393.74,260.22" fill="#242424"/>
<line x1="335.6" y1="290.9" x2="335.6" y2="300.52" stroke="#242424" stroke-width="0.9" />
<polygon points="335.6,303.4 334.1,299.8 337.1,299.8" fill="#242424"/>
<line x1="401" y1="290.9" x2="401" y2="300.52" stroke="#242424" stroke-width="0.9" />
<polygon points="401,303.4 399.5,299.8 402.5,299.8" fill="#242424"/>
<ellipse cx="353.1" cy="264" rx="8.7" ry="4.4" fill="#fff" stroke="#242424" stroke-width="0.9"/>
<ellipse cx="383.5" cy="264" rx="8.7" ry="4.4" fill="#fff" stroke="#242424" stroke-width="0.9"/>
<circle cx="351.6" cy="246.4" r="5" fill="#fff" stroke="#242424" stroke-width="0.9"/>
<circle cx="385" cy="246.4" r="5" fill="#fff" stroke="#242424" stroke-width="0.9"/>
<path d="M374.4,261.6 A6.6,4.9 0 0 0 362.9,261.2" fill="none" stroke="#ea2227" stroke-width="0.9" />
<line x1="361.3" y1="259.8" x2="363.6" y2="263.1" stroke="#ea2227" stroke-width="0.9" />
<path d="M362,265.7 A6.6,4.9 0 0 0 373.7,265.6" fill="none" stroke="#ea2227" stroke-width="0.9" />
<line x1="372.9" y1="263.6" x2="375.2" y2="266.8" stroke="#ea2227" stroke-width="0.9" />
<circle cx="335.6" cy="283" r="7.9" fill="#fff" stroke="#1c1c1c" stroke-width="1.05"/>
<circle cx="401" cy="283" r="7.9" fill="#fff" stroke="#242424" stroke-width="0.9"/>
<text x="335.6" y="286.1" font-size="8.8" text-anchor="middle" font-weight="bold" font-style="normal" fill="#000" stroke="#000" stroke-width="0.25" >1</text>
<text x="370.2" y="288.3" font-size="8.3" text-anchor="middle" font-weight="bold" font-style="normal" fill="#ea2227" stroke="#ea2227" stroke-width="0.25" >Donut +</text>
<text x="370.2" y="298.3" font-size="8.3" text-anchor="middle" font-weight="bold" font-style="normal" fill="#ea2227" stroke="#ea2227" stroke-width="0.25" >Feedback+</text>
<text x="370.2" y="308.3" font-size="8.3" text-anchor="middle" font-weight="bold" font-style="normal" fill="#ea2227" stroke="#ea2227" stroke-width="0.25" >Ipc Recurrence</text>
<line x1="120" y1="80.4" x2="168.1" y2="52.79" stroke="#1a1a1a" stroke-width="1.7" />
<polygon points="174,49.4 168.07,56.15 165.18,51.12" fill="#1a1a1a"/>
<line x1="120" y1="119.4" x2="168.45" y2="146.12" stroke="#1a1a1a" stroke-width="1.7" />
<polygon points="174.4,149.4 165.56,147.83 168.36,142.76" fill="#1a1a1a"/>
<line x1="73.7" y1="142" x2="73.7" y2="196.8" stroke="#1a1a1a" stroke-width="1.7" />
<polygon points="73.7,204.4 70.9,194.9 76.5,194.9" fill="#1a1a1a"/>
<line x1="267" y1="48.6" x2="315.65" y2="76.79" stroke="#b9b9b9" stroke-width="1.0" />
<polygon points="320.5,79.6 313.24,78.17 315.65,74.01" fill="#b9b9b9"/>
<line x1="267" y1="150" x2="315.6" y2="123.2" stroke="#b9b9b9" stroke-width="1.0" />
<polygon points="320.5,120.5 315.53,125.98 313.21,121.78" fill="#b9b9b9"/>
<line x1="120" y1="247.6" x2="168.07" y2="221.66" stroke="#b9b9b9" stroke-width="1.0" />
<polygon points="173,219 167.98,224.44 165.7,220.21" fill="#b9b9b9"/>
<line x1="120" y1="289" x2="168.09" y2="315.31" stroke="#b9b9b9" stroke-width="1.0" />
<polygon points="173,318 165.71,316.75 168.01,312.53" fill="#b9b9b9"/>
<line x1="269" y1="217.6" x2="316.11" y2="243.87" stroke="#b9b9b9" stroke-width="1.0" />
<polygon points="321,246.6 313.72,245.29 316.06,241.09" fill="#b9b9b9"/>
<line x1="265" y1="317" x2="313.54" y2="291.6" stroke="#b9b9b9" stroke-width="1.0" />
<polygon points="318.5,289 313.41,294.37 311.19,290.12" fill="#b9b9b9"/>
<text x="428.8" y="9.8" font-size="12.8" text-anchor="start" font-weight="bold" font-style="normal" fill="#000" stroke="#000" stroke-width="0.25" >B</text>
<text x="550.8" y="10.4" font-size="9.8" text-anchor="end" font-weight="bold" font-style="italic" fill="#000" stroke="#000" stroke-width="0.25" >S1&gt;S2</text>
<text x="550.8" y="22" font-size="9.8" text-anchor="end" font-weight="normal" font-style="italic" fill="#1a1a1a" stroke="#1a1a1a" stroke-width="0.12" >(Category A)</text>
<text x="563.2" y="10.4" font-size="9.8" text-anchor="start" font-weight="bold" font-style="italic" fill="#000" stroke="#000" stroke-width="0.25" >S1&lt;S2</text>
<text x="562.2" y="22" font-size="9.8" text-anchor="start" font-weight="normal" font-style="italic" fill="#1a1a1a" stroke="#1a1a1a" stroke-width="0.12" >(Category B)</text>
<text x="499.2" y="40.7" font-size="9.2" text-anchor="start" font-weight="normal" font-style="normal" fill="#1a1a1a" stroke="#1a1a1a" stroke-width="0.12" >S1</text>
<text x="499.2" y="58.7" font-size="9.2" text-anchor="start" font-weight="normal" font-style="normal" fill="#1a1a1a" stroke="#1a1a1a" stroke-width="0.12" >S2</text>
<line x1="556.5" y1="6" x2="556.5" y2="62" stroke="#888" stroke-width="0.7" />
<circle cx="520" cy="37.6" r="4.4" fill="#1a1a1a"/>
<circle cx="520" cy="56" r="0.5" fill="#bdbdbd" stroke="#8a8a8a" stroke-width="0.5"/>
<circle cx="533.4" cy="37.6" r="3.0" fill="#1a1a1a"/>
<circle cx="533.4" cy="56" r="1.1" fill="#bdbdbd" stroke="#8a8a8a" stroke-width="0.5"/>
<circle cx="547" cy="37.6" r="2.3" fill="#1a1a1a"/>
<circle cx="547" cy="56" r="1.6" fill="#bdbdbd" stroke="#8a8a8a" stroke-width="0.5"/>
<circle cx="566.4" cy="37.6" r="1.6" fill="#1a1a1a"/>
<circle cx="566.4" cy="56" r="2.3" fill="#bdbdbd" stroke="#8a8a8a" stroke-width="0.5"/>
<circle cx="579.6" cy="37.6" r="1.2" fill="#1a1a1a"/>
<circle cx="579.6" cy="56" r="3.1" fill="#bdbdbd" stroke="#8a8a8a" stroke-width="0.5"/>
<circle cx="593.2" cy="37.6" r="0.8" fill="#1a1a1a"/>
<circle cx="593.2" cy="56" r="4.6" fill="#bdbdbd" stroke="#8a8a8a" stroke-width="0.5"/>
<text x="429.4" y="90.2" font-size="12.8" text-anchor="start" font-weight="bold" font-style="normal" fill="#000" stroke="#000" stroke-width="0.25" >C</text>
<line x1="512.5" y1="89.4" x2="512.5" y2="154.5" stroke="#8a8a8a" stroke-width="0.8" />
<line x1="471.65" y1="152.26" x2="471.65" y2="149.12" stroke="#9a9a9a" stroke-width="0.9" />
<line x1="470.45" y1="152.26" x2="472.85" y2="152.26" stroke="#9a9a9a" stroke-width="0.7" />
<line x1="470.45" y1="149.12" x2="472.85" y2="149.12" stroke="#9a9a9a" stroke-width="0.7" />
<rect x="470.65" y="149.69" width="2" height="2" fill="#9a9a9a"/>
<line x1="477.1" y1="152.33" x2="477.1" y2="149.19" stroke="#9a9a9a" stroke-width="0.9" />
<line x1="475.9" y1="152.33" x2="478.3" y2="152.33" stroke="#9a9a9a" stroke-width="0.7" />
<line x1="475.9" y1="149.19" x2="478.3" y2="149.19" stroke="#9a9a9a" stroke-width="0.7" />
<rect x="476.1" y="149.76" width="2" height="2" fill="#9a9a9a"/>
<line x1="482.54" y1="152.27" x2="482.54" y2="149.13" stroke="#9a9a9a" stroke-width="0.9" />
<line x1="481.34" y1="152.27" x2="483.74" y2="152.27" stroke="#9a9a9a" stroke-width="0.7" />
<line x1="481.34" y1="149.13" x2="483.74" y2="149.13" stroke="#9a9a9a" stroke-width="0.7" />
<rect x="481.54" y="149.7" width="2" height="2" fill="#9a9a9a"/>
<line x1="487.99" y1="152.39" x2="487.99" y2="149.25" stroke="#9a9a9a" stroke-width="0.9" />
<line x1="486.79" y1="152.39" x2="489.19" y2="152.39" stroke="#9a9a9a" stroke-width="0.7" />
<line x1="486.79" y1="149.25" x2="489.19" y2="149.25" stroke="#9a9a9a" stroke-width="0.7" />
<rect x="486.99" y="149.82" width="2" height="2" fill="#9a9a9a"/>
<line x1="493.44" y1="152.49" x2="493.44" y2="149.35" stroke="#9a9a9a" stroke-width="0.9" />
<line x1="492.24" y1="152.49" x2="494.64" y2="152.49" stroke="#9a9a9a" stroke-width="0.7" />
<line x1="492.24" y1="149.35" x2="494.64" y2="149.35" stroke="#9a9a9a" stroke-width="0.7" />
<rect x="492.44" y="149.92" width="2" height="2" fill="#9a9a9a"/>
<line x1="498.88" y1="152.47" x2="498.88" y2="149.33" stroke="#9a9a9a" stroke-width="0.9" />
<line x1="497.68" y1="152.47" x2="500.08" y2="152.47" stroke="#9a9a9a" stroke-width="0.7" />
<line x1="497.68" y1="149.33" x2="500.08" y2="149.33" stroke="#9a9a9a" stroke-width="0.7" />
<rect x="497.88" y="149.9" width="2" height="2" fill="#9a9a9a"/>
<line x1="504.33" y1="152.42" x2="504.33" y2="149.28" stroke="#9a9a9a" stroke-width="0.9" />
<line x1="503.13" y1="152.42" x2="505.53" y2="152.42" stroke="#9a9a9a" stroke-width="0.7" />
<line x1="503.13" y1="149.28" x2="505.53" y2="149.28" stroke="#9a9a9a" stroke-width="0.7" />
<rect x="503.33" y="149.85" width="2" height="2" fill="#9a9a9a"/>
<line x1="509.78" y1="152.59" x2="509.78" y2="149.45" stroke="#9a9a9a" stroke-width="0.9" />
<line x1="508.58" y1="152.59" x2="510.98" y2="152.59" stroke="#9a9a9a" stroke-width="0.7" />
<line x1="508.58" y1="149.45" x2="510.98" y2="149.45" stroke="#9a9a9a" stroke-width="0.7" />
<rect x="508.78" y="150.02" width="2" height="2" fill="#9a9a9a"/>
<line x1="515.22" y1="152.75" x2="515.22" y2="149.61" stroke="#9a9a9a" stroke-width="0.9" />
<line x1="514.02" y1="152.75" x2="516.42" y2="152.75" stroke="#9a9a9a" stroke-width="0.7" />
<line x1="514.02" y1="149.61" x2="516.42" y2="149.61" stroke="#9a9a9a" stroke-width="0.7" />
<rect x="514.22" y="150.18" width="2" height="2" fill="#9a9a9a"/>
<line x1="520.67" y1="153.08" x2="520.67" y2="149.94" stroke="#9a9a9a" stroke-width="0.9" />
<line x1="519.47" y1="153.08" x2="521.87" y2="153.08" stroke="#9a9a9a" stroke-width="0.7" />
<line x1="519.47" y1="149.94" x2="521.87" y2="149.94" stroke="#9a9a9a" stroke-width="0.7" />
<rect x="519.67" y="150.51" width="2" height="2" fill="#9a9a9a"/>
<line x1="526.12" y1="153.13" x2="526.12" y2="149.99" stroke="#9a9a9a" stroke-width="0.9" />
<line x1="524.92" y1="153.13" x2="527.32" y2="153.13" stroke="#9a9a9a" stroke-width="0.7" />
<line x1="524.92" y1="149.99" x2="527.32" y2="149.99" stroke="#9a9a9a" stroke-width="0.7" />
<rect x="525.12" y="150.56" width="2" height="2" fill="#9a9a9a"/>
<line x1="531.56" y1="153.35" x2="531.56" y2="150.21" stroke="#9a9a9a" stroke-width="0.9" />
<line x1="530.36" y1="153.35" x2="532.76" y2="153.35" stroke="#9a9a9a" stroke-width="0.7" />
<line x1="530.36" y1="150.21" x2="532.76" y2="150.21" stroke="#9a9a9a" stroke-width="0.7" />
<rect x="530.56" y="150.78" width="2" height="2" fill="#9a9a9a"/>
<line x1="537.01" y1="153.49" x2="537.01" y2="150.35" stroke="#9a9a9a" stroke-width="0.9" />
<line x1="535.81" y1="153.49" x2="538.21" y2="153.49" stroke="#9a9a9a" stroke-width="0.7" />
<line x1="535.81" y1="150.35" x2="538.21" y2="150.35" stroke="#9a9a9a" stroke-width="0.7" />
<rect x="536.01" y="150.92" width="2" height="2" fill="#9a9a9a"/>
<line x1="542.46" y1="153.6" x2="542.46" y2="150.46" stroke="#9a9a9a" stroke-width="0.9" />
<line x1="541.26" y1="153.6" x2="543.66" y2="153.6" stroke="#9a9a9a" stroke-width="0.7" />
<line x1="541.26" y1="150.46" x2="543.66" y2="150.46" stroke="#9a9a9a" stroke-width="0.7" />
<rect x="541.46" y="151.03" width="2" height="2" fill="#9a9a9a"/>
<line x1="547.9" y1="153.63" x2="547.9" y2="150.49" stroke="#9a9a9a" stroke-width="0.9" />
<line x1="546.7" y1="153.63" x2="549.1" y2="153.63" stroke="#9a9a9a" stroke-width="0.7" />
<line x1="546.7" y1="150.49" x2="549.1" y2="150.49" stroke="#9a9a9a" stroke-width="0.7" />
<rect x="546.9" y="151.06" width="2" height="2" fill="#9a9a9a"/>
<line x1="553.35" y1="153.46" x2="553.35" y2="150.32" stroke="#9a9a9a" stroke-width="0.9" />
<line x1="552.15" y1="153.46" x2="554.55" y2="153.46" stroke="#9a9a9a" stroke-width="0.7" />
<line x1="552.15" y1="150.32" x2="554.55" y2="150.32" stroke="#9a9a9a" stroke-width="0.7" />
<rect x="552.35" y="150.89" width="2" height="2" fill="#9a9a9a"/>
<path d="M471.65,150.61 L473.01,150.62 L474.37,150.62 L475.74,150.63 L477.1,150.63 L478.46,150.64 L479.82,150.65 L481.18,150.66 L482.54,150.67 L483.9,150.68 L485.27,150.69 L486.63,150.7 L487.99,150.72 L489.35,150.73 L490.71,150.75 L492.07,150.76 L493.44,150.78 L494.8,150.8 L496.16,150.82 L497.52,150.85 L498.88,150.87 L500.25,150.9 L501.61,150.92 L502.97,150.95 L504.33,150.98 L505.69,151.01 L507.05,151.05 L508.42,151.08 L509.78,151.12 L511.14,151.15 L512.5,151.19 L513.86,151.23 L515.22,151.27 L516.59,151.31 L517.95,151.34 L519.31,151.38 L520.67,151.42 L522.03,151.46 L523.39,151.5 L524.75,151.54 L526.12,151.57 L527.48,151.61 L528.84,151.64 L530.2,151.68 L531.56,151.71 L532.92,151.74 L534.29,151.77 L535.65,151.79 L537.01,151.82 L538.37,151.84 L539.73,151.87 L541.1,151.89 L542.46,151.91 L543.82,151.93 L545.18,151.94 L546.54,151.96 L547.9,151.97 L549.26,151.99 L550.63,152 L551.99,152.01 L553.35,152.02 " fill="none" stroke="#9a9a9a" stroke-width="1.0" />
<line x1="471.65" y1="131.78" x2="471.65" y2="124.24" stroke="#9b2d96" stroke-width="0.9" />
<line x1="470.45" y1="131.78" x2="472.85" y2="131.78" stroke="#9b2d96" stroke-width="0.7" />
<line x1="470.45" y1="124.24" x2="472.85" y2="124.24" stroke="#9b2d96" stroke-width="0.7" />
<rect x="470.65" y="127.01" width="2" height="2" fill="#9b2d96"/>
<line x1="477.1" y1="131.87" x2="477.1" y2="124.35" stroke="#9b2d96" stroke-width="0.9" />
<line x1="475.9" y1="131.87" x2="478.3" y2="131.87" stroke="#9b2d96" stroke-width="0.7" />
<line x1="475.9" y1="124.35" x2="478.3" y2="124.35" stroke="#9b2d96" stroke-width="0.7" />
<rect x="476.1" y="127.11" width="2" height="2" fill="#9b2d96"/>
<line x1="482.54" y1="132.05" x2="482.54" y2="124.57" stroke="#9b2d96" stroke-width="0.9" />
<line x1="481.34" y1="132.05" x2="483.74" y2="132.05" stroke="#9b2d96" stroke-width="0.7" />
<line x1="481.34" y1="124.57" x2="483.74" y2="124.57" stroke="#9b2d96" stroke-width="0.7" />
<rect x="481.54" y="127.31" width="2" height="2" fill="#9b2d96"/>
<line x1="487.99" y1="133.04" x2="487.99" y2="125.66" stroke="#9b2d96" stroke-width="0.9" />
<line x1="486.79" y1="133.04" x2="489.19" y2="133.04" stroke="#9b2d96" stroke-width="0.7" />
<line x1="486.79" y1="125.66" x2="489.19" y2="125.66" stroke="#9b2d96" stroke-width="0.7" />
<rect x="486.99" y="128.35" width="2" height="2" fill="#9b2d96"/>
<line x1="493.44" y1="133.88" x2="493.44" y2="126.74" stroke="#9b2d96" stroke-width="0.9" />
<line x1="492.24" y1="133.88" x2="494.64" y2="133.88" stroke="#9b2d96" stroke-width="0.7" />
<line x1="492.24" y1="126.74" x2="494.64" y2="126.74" stroke="#9b2d96" stroke-width="0.7" />
<rect x="492.44" y="129.31" width="2" height="2" fill="#9b2d96"/>
<line x1="498.88" y1="135.54" x2="498.88" y2="128.88" stroke="#9b2d96" stroke-width="0.9" />
<line x1="497.68" y1="135.54" x2="500.08" y2="135.54" stroke="#9b2d96" stroke-width="0.7" />
<line x1="497.68" y1="128.88" x2="500.08" y2="128.88" stroke="#9b2d96" stroke-width="0.7" />
<rect x="497.88" y="131.21" width="2" height="2" fill="#9b2d96"/>
<line x1="504.33" y1="138.75" x2="504.33" y2="132.9" stroke="#9b2d96" stroke-width="0.9" />
<line x1="503.13" y1="138.75" x2="505.53" y2="138.75" stroke="#9b2d96" stroke-width="0.7" />
<line x1="503.13" y1="132.9" x2="505.53" y2="132.9" stroke="#9b2d96" stroke-width="0.7" />
<rect x="503.33" y="134.82" width="2" height="2" fill="#9b2d96"/>
<line x1="509.78" y1="142.71" x2="509.78" y2="137.87" stroke="#9b2d96" stroke-width="0.9" />
<line x1="508.58" y1="142.71" x2="510.98" y2="142.71" stroke="#9b2d96" stroke-width="0.7" />
<line x1="508.58" y1="137.87" x2="510.98" y2="137.87" stroke="#9b2d96" stroke-width="0.7" />
<rect x="508.78" y="139.29" width="2" height="2" fill="#9b2d96"/>
<line x1="515.22" y1="146.27" x2="515.22" y2="142.3" stroke="#9b2d96" stroke-width="0.9" />
<line x1="514.02" y1="146.27" x2="516.42" y2="146.27" stroke="#9b2d96" stroke-width="0.7" />
<line x1="514.02" y1="142.3" x2="516.42" y2="142.3" stroke="#9b2d96" stroke-width="0.7" />
<rect x="514.22" y="143.28" width="2" height="2" fill="#9b2d96"/>
<line x1="520.67" y1="149.5" x2="520.67" y2="146.13" stroke="#9b2d96" stroke-width="0.9" />
<line x1="519.47" y1="149.5" x2="521.87" y2="149.5" stroke="#9b2d96" stroke-width="0.7" />
<line x1="519.47" y1="146.13" x2="521.87" y2="146.13" stroke="#9b2d96" stroke-width="0.7" />
<rect x="519.67" y="146.82" width="2" height="2" fill="#9b2d96"/>
<line x1="526.12" y1="150.6" x2="526.12" y2="147.63" stroke="#9b2d96" stroke-width="0.9" />
<line x1="524.92" y1="150.6" x2="527.32" y2="150.6" stroke="#9b2d96" stroke-width="0.7" />
<line x1="524.92" y1="147.63" x2="527.32" y2="147.63" stroke="#9b2d96" stroke-width="0.7" />
<rect x="525.12" y="148.11" width="2" height="2" fill="#9b2d96"/>
<line x1="531.56" y1="151.52" x2="531.56" y2="148.78" stroke="#9b2d96" stroke-width="0.9" />
<line x1="530.36" y1="151.52" x2="532.76" y2="151.52" stroke="#9b2d96" stroke-width="0.7" />
<line x1="530.36" y1="148.78" x2="532.76" y2="148.78" stroke="#9b2d96" stroke-width="0.7" />
<rect x="530.56" y="149.15" width="2" height="2" fill="#9b2d96"/>
<line x1="537.01" y1="152.22" x2="537.01" y2="149.62" stroke="#9b2d96" stroke-width="0.9" />
<line x1="535.81" y1="152.22" x2="538.21" y2="152.22" stroke="#9b2d96" stroke-width="0.7" />
<line x1="535.81" y1="149.62" x2="538.21" y2="149.62" stroke="#9b2d96" stroke-width="0.7" />
<rect x="536.01" y="149.92" width="2" height="2" fill="#9b2d96"/>
<line x1="542.46" y1="152.8" x2="542.46" y2="150.27" stroke="#9b2d96" stroke-width="0.9" />
<line x1="541.26" y1="152.8" x2="543.66" y2="152.8" stroke="#9b2d96" stroke-width="0.7" />
<line x1="541.26" y1="150.27" x2="543.66" y2="150.27" stroke="#9b2d96" stroke-width="0.7" />
<rect x="541.46" y="150.54" width="2" height="2" fill="#9b2d96"/>
<line x1="547.9" y1="152.66" x2="547.9" y2="150.15" stroke="#9b2d96" stroke-width="0.9" />
<line x1="546.7" y1="152.66" x2="549.1" y2="152.66" stroke="#9b2d96" stroke-width="0.7" />
<line x1="546.7" y1="150.15" x2="549.1" y2="150.15" stroke="#9b2d96" stroke-width="0.7" />
<rect x="546.9" y="150.41" width="2" height="2" fill="#9b2d96"/>
<line x1="553.35" y1="153.08" x2="553.35" y2="150.59" stroke="#9b2d96" stroke-width="0.9" />
<line x1="552.15" y1="153.08" x2="554.55" y2="153.08" stroke="#9b2d96" stroke-width="0.7" />
<line x1="552.15" y1="150.59" x2="554.55" y2="150.59" stroke="#9b2d96" stroke-width="0.7" />
<rect x="552.35" y="150.83" width="2" height="2" fill="#9b2d96"/>
<path d="M471.65,128.32 L473.01,128.33 L474.37,128.35 L475.74,128.37 L477.1,128.4 L478.46,128.43 L479.82,128.48 L481.18,128.53 L482.54,128.6 L483.9,128.68 L485.27,128.78 L486.63,128.91 L487.99,129.06 L489.35,129.26 L490.71,129.49 L492.07,129.78 L493.44,130.13 L494.8,130.55 L496.16,131.05 L497.52,131.64 L498.88,132.33 L500.25,133.12 L501.61,134 L502.97,134.98 L504.33,136.04 L505.69,137.16 L507.05,138.31 L508.42,139.48 L509.78,140.62 L511.14,141.73 L512.5,142.78 L513.86,143.75 L515.22,144.64 L516.59,145.45 L517.95,146.18 L519.31,146.84 L520.67,147.43 L522.03,147.95 L523.39,148.42 L524.75,148.84 L526.12,149.21 L527.48,149.54 L528.84,149.83 L530.2,150.09 L531.56,150.31 L532.92,150.5 L534.29,150.66 L535.65,150.8 L537.01,150.92 L538.37,151.02 L539.73,151.11 L541.1,151.18 L542.46,151.23 L543.82,151.28 L545.18,151.32 L546.54,151.35 L547.9,151.38 L549.26,151.4 L550.63,151.42 L551.99,151.44 L553.35,151.45 " fill="none" stroke="#9b2d96" stroke-width="1.0" />
<line x1="471.65" y1="101.32" x2="471.65" y2="91.27" stroke="#1f1fe0" stroke-width="0.9" />
<line x1="470.45" y1="101.32" x2="472.85" y2="101.32" stroke="#1f1fe0" stroke-width="0.7" />
<line x1="470.45" y1="91.27" x2="472.85" y2="91.27" stroke="#1f1fe0" stroke-width="0.7" />
<rect x="470.65" y="95.3" width="2" height="2" fill="#1f1fe0"/>
<line x1="477.1" y1="103.62" x2="477.1" y2="93.59" stroke="#1f1fe0" stroke-width="0.9" />
<line x1="475.9" y1="103.62" x2="478.3" y2="103.62" stroke="#1f1fe0" stroke-width="0.7" />
<line x1="475.9" y1="93.59" x2="478.3" y2="93.59" stroke="#1f1fe0" stroke-width="0.7" />
<rect x="476.1" y="97.6" width="2" height="2" fill="#1f1fe0"/>
<line x1="482.54" y1="108.93" x2="482.54" y2="98.94" stroke="#1f1fe0" stroke-width="0.9" />
<line x1="481.34" y1="108.93" x2="483.74" y2="108.93" stroke="#1f1fe0" stroke-width="0.7" />
<line x1="481.34" y1="98.94" x2="483.74" y2="98.94" stroke="#1f1fe0" stroke-width="0.7" />
<rect x="481.54" y="102.94" width="2" height="2" fill="#1f1fe0"/>
<line x1="487.99" y1="108.79" x2="487.99" y2="98.91" stroke="#1f1fe0" stroke-width="0.9" />
<line x1="486.79" y1="108.79" x2="489.19" y2="108.79" stroke="#1f1fe0" stroke-width="0.7" />
<line x1="486.79" y1="98.91" x2="489.19" y2="98.91" stroke="#1f1fe0" stroke-width="0.7" />
<rect x="486.99" y="102.85" width="2" height="2" fill="#1f1fe0"/>
<line x1="493.44" y1="112.49" x2="493.44" y2="102.92" stroke="#1f1fe0" stroke-width="0.9" />
<line x1="492.24" y1="112.49" x2="494.64" y2="112.49" stroke="#1f1fe0" stroke-width="0.7" />
<line x1="492.24" y1="102.92" x2="494.64" y2="102.92" stroke="#1f1fe0" stroke-width="0.7" />
<rect x="492.44" y="106.71" width="2" height="2" fill="#1f1fe0"/>
<line x1="498.88" y1="116.3" x2="498.88" y2="107.45" stroke="#1f1fe0" stroke-width="0.9" />
<line x1="497.68" y1="116.3" x2="500.08" y2="116.3" stroke="#1f1fe0" stroke-width="0.7" />
<line x1="497.68" y1="107.45" x2="500.08" y2="107.45" stroke="#1f1fe0" stroke-width="0.7" />
<rect x="497.88" y="110.87" width="2" height="2" fill="#1f1fe0"/>
<line x1="504.33" y1="122.15" x2="504.33" y2="114.64" stroke="#1f1fe0" stroke-width="0.9" />
<line x1="503.13" y1="122.15" x2="505.53" y2="122.15" stroke="#1f1fe0" stroke-width="0.7" />
<line x1="503.13" y1="114.64" x2="505.53" y2="114.64" stroke="#1f1fe0" stroke-width="0.7" />
<rect x="503.33" y="117.39" width="2" height="2" fill="#1f1fe0"/>
<line x1="509.78" y1="134.31" x2="509.78" y2="128.4" stroke="#1f1fe0" stroke-width="0.9" />
<line x1="508.58" y1="134.31" x2="510.98" y2="134.31" stroke="#1f1fe0" stroke-width="0.7" />
<line x1="508.58" y1="128.4" x2="510.98" y2="128.4" stroke="#1f1fe0" stroke-width="0.7" />
<rect x="508.78" y="130.35" width="2" height="2" fill="#1f1fe0"/>
<line x1="515.22" y1="143.37" x2="515.22" y2="138.67" stroke="#1f1fe0" stroke-width="0.9" />
<line x1="514.02" y1="143.37" x2="516.42" y2="143.37" stroke="#1f1fe0" stroke-width="0.7" />
<line x1="514.02" y1="138.67" x2="516.42" y2="138.67" stroke="#1f1fe0" stroke-width="0.7" />
<rect x="514.22" y="140.02" width="2" height="2" fill="#1f1fe0"/>
<line x1="520.67" y1="148.05" x2="520.67" y2="144.01" stroke="#1f1fe0" stroke-width="0.9" />
<line x1="519.47" y1="148.05" x2="521.87" y2="148.05" stroke="#1f1fe0" stroke-width="0.7" />
<line x1="519.47" y1="144.01" x2="521.87" y2="144.01" stroke="#1f1fe0" stroke-width="0.7" />
<rect x="519.67" y="145.03" width="2" height="2" fill="#1f1fe0"/>
<line x1="526.12" y1="150.49" x2="526.12" y2="146.81" stroke="#1f1fe0" stroke-width="0.9" />
<line x1="524.92" y1="150.49" x2="527.32" y2="150.49" stroke="#1f1fe0" stroke-width="0.7" />
<line x1="524.92" y1="146.81" x2="527.32" y2="146.81" stroke="#1f1fe0" stroke-width="0.7" />
<rect x="525.12" y="147.65" width="2" height="2" fill="#1f1fe0"/>
<line x1="531.56" y1="151.82" x2="531.56" y2="148.32" stroke="#1f1fe0" stroke-width="0.9" />
<line x1="530.36" y1="151.82" x2="532.76" y2="151.82" stroke="#1f1fe0" stroke-width="0.7" />
<line x1="530.36" y1="148.32" x2="532.76" y2="148.32" stroke="#1f1fe0" stroke-width="0.7" />
<rect x="530.56" y="149.07" width="2" height="2" fill="#1f1fe0"/>
<line x1="537.01" y1="152.52" x2="537.01" y2="149.12" stroke="#1f1fe0" stroke-width="0.9" />
<line x1="535.81" y1="152.52" x2="538.21" y2="152.52" stroke="#1f1fe0" stroke-width="0.7" />
<line x1="535.81" y1="149.12" x2="538.21" y2="149.12" stroke="#1f1fe0" stroke-width="0.7" />
<rect x="536.01" y="149.82" width="2" height="2" fill="#1f1fe0"/>
<line x1="542.46" y1="152.86" x2="542.46" y2="149.52" stroke="#1f1fe0" stroke-width="0.9" />
<line x1="541.26" y1="152.86" x2="543.66" y2="152.86" stroke="#1f1fe0" stroke-width="0.7" />
<line x1="541.26" y1="149.52" x2="543.66" y2="149.52" stroke="#1f1fe0" stroke-width="0.7" />
<rect x="541.46" y="150.19" width="2" height="2" fill="#1f1fe0"/>
<line x1="547.9" y1="153.03" x2="547.9" y2="149.7" stroke="#1f1fe0" stroke-width="0.9" />
<line x1="546.7" y1="153.03" x2="549.1" y2="153.03" stroke="#1f1fe0" stroke-width="0.7" />
<line x1="546.7" y1="149.7" x2="549.1" y2="149.7" stroke="#1f1fe0" stroke-width="0.7" />
<rect x="546.9" y="150.36" width="2" height="2" fill="#1f1fe0"/>
<line x1="553.35" y1="153.1" x2="553.35" y2="149.78" stroke="#1f1fe0" stroke-width="0.9" />
<line x1="552.15" y1="153.1" x2="554.55" y2="153.1" stroke="#1f1fe0" stroke-width="0.7" />
<line x1="552.15" y1="149.78" x2="554.55" y2="149.78" stroke="#1f1fe0" stroke-width="0.7" />
<rect x="552.35" y="150.44" width="2" height="2" fill="#1f1fe0"/>
<path d="M471.65,101.01 L473.01,101.03 L474.37,101.05 L475.74,101.08 L477.1,101.12 L478.46,101.17 L479.82,101.23 L481.18,101.32 L482.54,101.43 L483.9,101.57 L485.27,101.75 L486.63,101.98 L487.99,102.28 L489.35,102.67 L490.71,103.16 L492.07,103.78 L493.44,104.57 L494.8,105.55 L496.16,106.76 L497.52,108.23 L498.88,109.99 L500.25,112.06 L501.61,114.43 L502.97,117.09 L504.33,119.96 L505.69,122.99 L507.05,126.07 L508.42,129.1 L509.78,131.98 L511.14,134.65 L512.5,137.06 L513.86,139.18 L515.22,141.02 L516.59,142.59 L517.95,143.93 L519.31,145.07 L520.67,146.03 L522.03,146.84 L523.39,147.54 L524.75,148.14 L526.12,148.65 L527.48,149.09 L528.84,149.47 L530.2,149.79 L531.56,150.07 L532.92,150.31 L534.29,150.51 L535.65,150.68 L537.01,150.82 L538.37,150.94 L539.73,151.04 L541.1,151.12 L542.46,151.19 L543.82,151.25 L545.18,151.29 L546.54,151.33 L547.9,151.36 L549.26,151.39 L550.63,151.41 L551.99,151.43 L553.35,151.44 " fill="none" stroke="#1f1fe0" stroke-width="1.0" />
<line x1="471.65" y1="149.39" x2="471.65" y2="142.48" stroke="#1f9e4d" stroke-width="0.9" />
<line x1="470.45" y1="149.39" x2="472.85" y2="149.39" stroke="#1f9e4d" stroke-width="0.7" />
<line x1="470.45" y1="142.48" x2="472.85" y2="142.48" stroke="#1f9e4d" stroke-width="0.7" />
<rect x="470.65" y="144.93" width="2" height="2" fill="#1f9e4d"/>
<line x1="477.1" y1="149.07" x2="477.1" y2="142.21" stroke="#1f9e4d" stroke-width="0.9" />
<line x1="475.9" y1="149.07" x2="478.3" y2="149.07" stroke="#1f9e4d" stroke-width="0.7" />
<line x1="475.9" y1="142.21" x2="478.3" y2="142.21" stroke="#1f9e4d" stroke-width="0.7" />
<rect x="476.1" y="144.64" width="2" height="2" fill="#1f9e4d"/>
<line x1="482.54" y1="149.35" x2="482.54" y2="142.59" stroke="#1f9e4d" stroke-width="0.9" />
<line x1="481.34" y1="149.35" x2="483.74" y2="149.35" stroke="#1f9e4d" stroke-width="0.7" />
<line x1="481.34" y1="142.59" x2="483.74" y2="142.59" stroke="#1f9e4d" stroke-width="0.7" />
<rect x="481.54" y="144.97" width="2" height="2" fill="#1f9e4d"/>
<line x1="487.99" y1="149.3" x2="487.99" y2="142.68" stroke="#1f9e4d" stroke-width="0.9" />
<line x1="486.79" y1="149.3" x2="489.19" y2="149.3" stroke="#1f9e4d" stroke-width="0.7" />
<line x1="486.79" y1="142.68" x2="489.19" y2="142.68" stroke="#1f9e4d" stroke-width="0.7" />
<rect x="486.99" y="144.99" width="2" height="2" fill="#1f9e4d"/>
<line x1="493.44" y1="149.51" x2="493.44" y2="143.09" stroke="#1f9e4d" stroke-width="0.9" />
<line x1="492.24" y1="149.51" x2="494.64" y2="149.51" stroke="#1f9e4d" stroke-width="0.7" />
<line x1="492.24" y1="143.09" x2="494.64" y2="143.09" stroke="#1f9e4d" stroke-width="0.7" />
<rect x="492.44" y="145.3" width="2" height="2" fill="#1f9e4d"/>
<line x1="498.88" y1="149.83" x2="498.88" y2="143.73" stroke="#1f9e4d" stroke-width="0.9" />
<line x1="497.68" y1="149.83" x2="500.08" y2="149.83" stroke="#1f9e4d" stroke-width="0.7" />
<line x1="497.68" y1="143.73" x2="500.08" y2="143.73" stroke="#1f9e4d" stroke-width="0.7" />
<rect x="497.88" y="145.78" width="2" height="2" fill="#1f9e4d"/>
<line x1="504.33" y1="149.76" x2="504.33" y2="144.07" stroke="#1f9e4d" stroke-width="0.9" />
<line x1="503.13" y1="149.76" x2="505.53" y2="149.76" stroke="#1f9e4d" stroke-width="0.7" />
<line x1="503.13" y1="144.07" x2="505.53" y2="144.07" stroke="#1f9e4d" stroke-width="0.7" />
<rect x="503.33" y="145.91" width="2" height="2" fill="#1f9e4d"/>
<line x1="509.78" y1="150.68" x2="509.78" y2="145.52" stroke="#1f9e4d" stroke-width="0.9" />
<line x1="508.58" y1="150.68" x2="510.98" y2="150.68" stroke="#1f9e4d" stroke-width="0.7" />
<line x1="508.58" y1="145.52" x2="510.98" y2="145.52" stroke="#1f9e4d" stroke-width="0.7" />
<rect x="508.78" y="147.1" width="2" height="2" fill="#1f9e4d"/>
<line x1="515.22" y1="151.01" x2="515.22" y2="146.45" stroke="#1f9e4d" stroke-width="0.9" />
<line x1="514.02" y1="151.01" x2="516.42" y2="151.01" stroke="#1f9e4d" stroke-width="0.7" />
<line x1="514.02" y1="146.45" x2="516.42" y2="146.45" stroke="#1f9e4d" stroke-width="0.7" />
<rect x="514.22" y="147.73" width="2" height="2" fill="#1f9e4d"/>
<line x1="520.67" y1="151.62" x2="520.67" y2="147.65" stroke="#1f9e4d" stroke-width="0.9" />
<line x1="519.47" y1="151.62" x2="521.87" y2="151.62" stroke="#1f9e4d" stroke-width="0.7" />
<line x1="519.47" y1="147.65" x2="521.87" y2="147.65" stroke="#1f9e4d" stroke-width="0.7" />
<rect x="519.67" y="148.63" width="2" height="2" fill="#1f9e4d"/>
<line x1="526.12" y1="151.77" x2="526.12" y2="148.32" stroke="#1f9e4d" stroke-width="0.9" />
<line x1="524.92" y1="151.77" x2="527.32" y2="151.77" stroke="#1f9e4d" stroke-width="0.7" />
<line x1="524.92" y1="148.32" x2="527.32" y2="148.32" stroke="#1f9e4d" stroke-width="0.7" />
<rect x="525.12" y="149.04" width="2" height="2" fill="#1f9e4d"/>
<line x1="531.56" y1="152.32" x2="531.56" y2="149.3" stroke="#1f9e4d" stroke-width="0.9" />
<line x1="530.36" y1="152.32" x2="532.76" y2="152.32" stroke="#1f9e4d" stroke-width="0.7" />
<line x1="530.36" y1="149.3" x2="532.76" y2="149.3" stroke="#1f9e4d" stroke-width="0.7" />
<rect x="530.56" y="149.81" width="2" height="2" fill="#1f9e4d"/>
<line x1="537.01" y1="152.52" x2="537.01" y2="149.8" stroke="#1f9e4d" stroke-width="0.9" />
<line x1="535.81" y1="152.52" x2="538.21" y2="152.52" stroke="#1f9e4d" stroke-width="0.7" />
<line x1="535.81" y1="149.8" x2="538.21" y2="149.8" stroke="#1f9e4d" stroke-width="0.7" />
<rect x="536.01" y="150.16" width="2" height="2" fill="#1f9e4d"/>
<line x1="542.46" y1="152.44" x2="542.46" y2="149.93" stroke="#1f9e4d" stroke-width="0.9" />
<line x1="541.26" y1="152.44" x2="543.66" y2="152.44" stroke="#1f9e4d" stroke-width="0.7" />
<line x1="541.26" y1="149.93" x2="543.66" y2="149.93" stroke="#1f9e4d" stroke-width="0.7" />
<rect x="541.46" y="150.18" width="2" height="2" fill="#1f9e4d"/>
<line x1="547.9" y1="152.81" x2="547.9" y2="150.45" stroke="#1f9e4d" stroke-width="0.9" />
<line x1="546.7" y1="152.81" x2="549.1" y2="152.81" stroke="#1f9e4d" stroke-width="0.7" />
<line x1="546.7" y1="150.45" x2="549.1" y2="150.45" stroke="#1f9e4d" stroke-width="0.7" />
<rect x="546.9" y="150.63" width="2" height="2" fill="#1f9e4d"/>
<line x1="553.35" y1="152.73" x2="553.35" y2="150.46" stroke="#1f9e4d" stroke-width="0.9" />
<line x1="552.15" y1="152.73" x2="554.55" y2="152.73" stroke="#1f9e4d" stroke-width="0.7" />
<line x1="552.15" y1="150.46" x2="554.55" y2="150.46" stroke="#1f9e4d" stroke-width="0.7" />
<rect x="552.35" y="150.6" width="2" height="2" fill="#1f9e4d"/>
<path d="M471.65,145.65 L473.01,145.66 L474.37,145.68 L475.74,145.7 L477.1,145.72 L478.46,145.74 L479.82,145.77 L481.18,145.8 L482.54,145.83 L483.9,145.87 L485.27,145.91 L486.63,145.96 L487.99,146.01 L489.35,146.07 L490.71,146.13 L492.07,146.21 L493.44,146.28 L494.8,146.37 L496.16,146.47 L497.52,146.57 L498.88,146.68 L500.25,146.8 L501.61,146.93 L502.97,147.08 L504.33,147.22 L505.69,147.38 L507.05,147.55 L508.42,147.73 L509.78,147.91 L511.14,148.09 L512.5,148.29 L513.86,148.48 L515.22,148.68 L516.59,148.87 L517.95,149.07 L519.31,149.26 L520.67,149.45 L522.03,149.63 L523.39,149.8 L524.75,149.97 L526.12,150.13 L527.48,150.28 L528.84,150.42 L530.2,150.55 L531.56,150.67 L532.92,150.78 L534.29,150.89 L535.65,150.98 L537.01,151.07 L538.37,151.15 L539.73,151.22 L541.1,151.28 L542.46,151.34 L543.82,151.39 L545.18,151.44 L546.54,151.48 L547.9,151.52 L549.26,151.55 L550.63,151.58 L551.99,151.61 L553.35,151.63 " fill="none" stroke="#1f9e4d" stroke-width="1.0" />
<line x1="471.7" y1="89.4" x2="471.7" y2="154.95" stroke="#555" stroke-width="1.1" />
<line x1="471.2" y1="154.5" x2="553.9" y2="154.5" stroke="#555" stroke-width="0.9" />
<text x="469.5" y="93.9" font-size="8.3" text-anchor="end" font-weight="normal" font-style="normal" fill="#1a1a1a" stroke="#1a1a1a" stroke-width="0.12" >20</text>
<line x1="471.7" y1="90.9" x2="473" y2="90.9" stroke="#333" stroke-width="0.7" />
<text x="469.5" y="109.6" font-size="8.3" text-anchor="end" font-weight="normal" font-style="normal" fill="#1a1a1a" stroke="#1a1a1a" stroke-width="0.12" >15</text>
<line x1="471.7" y1="106.6" x2="473" y2="106.6" stroke="#333" stroke-width="0.7" />
<text x="469.5" y="125.3" font-size="8.3" text-anchor="end" font-weight="normal" font-style="normal" fill="#1a1a1a" stroke="#1a1a1a" stroke-width="0.12" >10</text>
<line x1="471.7" y1="122.3" x2="473" y2="122.3" stroke="#333" stroke-width="0.7" />
<text x="469.5" y="141" font-size="8.3" text-anchor="end" font-weight="normal" font-style="normal" fill="#1a1a1a" stroke="#1a1a1a" stroke-width="0.12" >5</text>
<line x1="471.7" y1="138" x2="473" y2="138" stroke="#333" stroke-width="0.7" />
<text x="469.5" y="154.3" font-size="8.3" text-anchor="end" font-weight="normal" font-style="normal" fill="#1a1a1a" stroke="#1a1a1a" stroke-width="0.12" >0</text>
<text x="469.55" y="163.8" font-size="8.3" text-anchor="middle" font-weight="normal" font-style="normal" fill="#1a1a1a" stroke="#1a1a1a" stroke-width="0.12" >-15</text>
<text x="484.27" y="163.8" font-size="8.3" text-anchor="middle" font-weight="normal" font-style="normal" fill="#1a1a1a" stroke="#1a1a1a" stroke-width="0.12" >-10</text>
<line x1="485.27" y1="154.5" x2="485.27" y2="153.1" stroke="#333" stroke-width="0.7" />
<text x="498.28" y="163.8" font-size="8.3" text-anchor="middle" font-weight="normal" font-style="normal" fill="#1a1a1a" stroke="#1a1a1a" stroke-width="0.12" >-5</text>
<line x1="498.88" y1="154.5" x2="498.88" y2="153.1" stroke="#333" stroke-width="0.7" />
<text x="512.5" y="163.8" font-size="8.3" text-anchor="middle" font-weight="normal" font-style="normal" fill="#1a1a1a" stroke="#1a1a1a" stroke-width="0.12" >0</text>
<line x1="512.5" y1="154.5" x2="512.5" y2="153.1" stroke="#333" stroke-width="0.7" />
<text x="526.12" y="163.8" font-size="8.3" text-anchor="middle" font-weight="normal" font-style="normal" fill="#1a1a1a" stroke="#1a1a1a" stroke-width="0.12" >5</text>
<line x1="526.12" y1="154.5" x2="526.12" y2="153.1" stroke="#333" stroke-width="0.7" />
<text x="539.73" y="163.8" font-size="8.3" text-anchor="middle" font-weight="normal" font-style="normal" fill="#1a1a1a" stroke="#1a1a1a" stroke-width="0.12" >10</text>
<line x1="539.73" y1="154.5" x2="539.73" y2="153.1" stroke="#333" stroke-width="0.7" />
<text x="553.35" y="163.8" font-size="8.3" text-anchor="middle" font-weight="normal" font-style="normal" fill="#1a1a1a" stroke="#1a1a1a" stroke-width="0.12" >15</text>
<line x1="553.35" y1="154.5" x2="553.35" y2="153.1" stroke="#333" stroke-width="0.7" />
<line x1="613.5" y1="87.4" x2="613.5" y2="154.5" stroke="#8a8a8a" stroke-width="0.8" />
<line x1="572.15" y1="152.01" x2="572.15" y2="150.28" stroke="#f6921e" stroke-width="0.9" />
<line x1="570.95" y1="152.01" x2="573.35" y2="152.01" stroke="#f6921e" stroke-width="0.7" />
<line x1="570.95" y1="150.28" x2="573.35" y2="150.28" stroke="#f6921e" stroke-width="0.7" />
<rect x="571.15" y="150.14" width="2" height="2" fill="#f6921e"/>
<line x1="577.66" y1="152.54" x2="577.66" y2="150.8" stroke="#f6921e" stroke-width="0.9" />
<line x1="576.46" y1="152.54" x2="578.86" y2="152.54" stroke="#f6921e" stroke-width="0.7" />
<line x1="576.46" y1="150.8" x2="578.86" y2="150.8" stroke="#f6921e" stroke-width="0.7" />
<rect x="576.66" y="150.67" width="2" height="2" fill="#f6921e"/>
<line x1="583.18" y1="152.57" x2="583.18" y2="150.84" stroke="#f6921e" stroke-width="0.9" />
<line x1="581.98" y1="152.57" x2="584.38" y2="152.57" stroke="#f6921e" stroke-width="0.7" />
<line x1="581.98" y1="150.84" x2="584.38" y2="150.84" stroke="#f6921e" stroke-width="0.7" />
<rect x="582.18" y="150.7" width="2" height="2" fill="#f6921e"/>
<line x1="588.69" y1="152.47" x2="588.69" y2="150.74" stroke="#f6921e" stroke-width="0.9" />
<line x1="587.49" y1="152.47" x2="589.89" y2="152.47" stroke="#f6921e" stroke-width="0.7" />
<line x1="587.49" y1="150.74" x2="589.89" y2="150.74" stroke="#f6921e" stroke-width="0.7" />
<rect x="587.69" y="150.6" width="2" height="2" fill="#f6921e"/>
<line x1="594.2" y1="152.13" x2="594.2" y2="150.4" stroke="#f6921e" stroke-width="0.9" />
<line x1="593" y1="152.13" x2="595.4" y2="152.13" stroke="#f6921e" stroke-width="0.7" />
<line x1="593" y1="150.4" x2="595.4" y2="150.4" stroke="#f6921e" stroke-width="0.7" />
<rect x="593.2" y="150.27" width="2" height="2" fill="#f6921e"/>
<line x1="599.72" y1="152.25" x2="599.72" y2="150.51" stroke="#f6921e" stroke-width="0.9" />
<line x1="598.52" y1="152.25" x2="600.92" y2="152.25" stroke="#f6921e" stroke-width="0.7" />
<line x1="598.52" y1="150.51" x2="600.92" y2="150.51" stroke="#f6921e" stroke-width="0.7" />
<rect x="598.72" y="150.38" width="2" height="2" fill="#f6921e"/>
<line x1="605.23" y1="152.51" x2="605.23" y2="150.78" stroke="#f6921e" stroke-width="0.9" />
<line x1="604.03" y1="152.51" x2="606.43" y2="152.51" stroke="#f6921e" stroke-width="0.7" />
<line x1="604.03" y1="150.78" x2="606.43" y2="150.78" stroke="#f6921e" stroke-width="0.7" />
<rect x="604.23" y="150.64" width="2" height="2" fill="#f6921e"/>
<line x1="610.74" y1="152.47" x2="610.74" y2="150.74" stroke="#f6921e" stroke-width="0.9" />
<line x1="609.54" y1="152.47" x2="611.94" y2="152.47" stroke="#f6921e" stroke-width="0.7" />
<line x1="609.54" y1="150.74" x2="611.94" y2="150.74" stroke="#f6921e" stroke-width="0.7" />
<rect x="609.74" y="150.6" width="2" height="2" fill="#f6921e"/>
<line x1="616.26" y1="152.59" x2="616.26" y2="150.86" stroke="#f6921e" stroke-width="0.9" />
<line x1="615.06" y1="152.59" x2="617.46" y2="152.59" stroke="#f6921e" stroke-width="0.7" />
<line x1="615.06" y1="150.86" x2="617.46" y2="150.86" stroke="#f6921e" stroke-width="0.7" />
<rect x="615.26" y="150.73" width="2" height="2" fill="#f6921e"/>
<line x1="621.77" y1="152.43" x2="621.77" y2="150.69" stroke="#f6921e" stroke-width="0.9" />
<line x1="620.57" y1="152.43" x2="622.97" y2="152.43" stroke="#f6921e" stroke-width="0.7" />
<line x1="620.57" y1="150.69" x2="622.97" y2="150.69" stroke="#f6921e" stroke-width="0.7" />
<rect x="620.77" y="150.56" width="2" height="2" fill="#f6921e"/>
<line x1="627.28" y1="152.72" x2="627.28" y2="150.98" stroke="#f6921e" stroke-width="0.9" />
<line x1="626.08" y1="152.72" x2="628.48" y2="152.72" stroke="#f6921e" stroke-width="0.7" />
<line x1="626.08" y1="150.98" x2="628.48" y2="150.98" stroke="#f6921e" stroke-width="0.7" />
<rect x="626.28" y="150.85" width="2" height="2" fill="#f6921e"/>
<line x1="632.8" y1="152.31" x2="632.8" y2="150.57" stroke="#f6921e" stroke-width="0.9" />
<line x1="631.6" y1="152.31" x2="634" y2="152.31" stroke="#f6921e" stroke-width="0.7" />
<line x1="631.6" y1="150.57" x2="634" y2="150.57" stroke="#f6921e" stroke-width="0.7" />
<rect x="631.8" y="150.44" width="2" height="2" fill="#f6921e"/>
<line x1="638.31" y1="152.19" x2="638.31" y2="150.46" stroke="#f6921e" stroke-width="0.9" />
<line x1="637.11" y1="152.19" x2="639.51" y2="152.19" stroke="#f6921e" stroke-width="0.7" />
<line x1="637.11" y1="150.46" x2="639.51" y2="150.46" stroke="#f6921e" stroke-width="0.7" />
<rect x="637.31" y="150.32" width="2" height="2" fill="#f6921e"/>
<line x1="643.82" y1="152.16" x2="643.82" y2="150.43" stroke="#f6921e" stroke-width="0.9" />
<line x1="642.62" y1="152.16" x2="645.02" y2="152.16" stroke="#f6921e" stroke-width="0.7" />
<line x1="642.62" y1="150.43" x2="645.02" y2="150.43" stroke="#f6921e" stroke-width="0.7" />
<rect x="642.82" y="150.3" width="2" height="2" fill="#f6921e"/>
<line x1="649.34" y1="152.31" x2="649.34" y2="150.58" stroke="#f6921e" stroke-width="0.9" />
<line x1="648.14" y1="152.31" x2="650.54" y2="152.31" stroke="#f6921e" stroke-width="0.7" />
<line x1="648.14" y1="150.58" x2="650.54" y2="150.58" stroke="#f6921e" stroke-width="0.7" />
<rect x="648.34" y="150.45" width="2" height="2" fill="#f6921e"/>
<line x1="654.85" y1="152.17" x2="654.85" y2="150.44" stroke="#f6921e" stroke-width="0.9" />
<line x1="653.65" y1="152.17" x2="656.05" y2="152.17" stroke="#f6921e" stroke-width="0.7" />
<line x1="653.65" y1="150.44" x2="656.05" y2="150.44" stroke="#f6921e" stroke-width="0.7" />
<rect x="653.85" y="150.3" width="2" height="2" fill="#f6921e"/>
<path d="M572.15,151.41 L573.53,151.41 L574.91,151.41 L576.28,151.41 L577.66,151.41 L579.04,151.41 L580.42,151.41 L581.8,151.42 L583.18,151.42 L584.55,151.42 L585.93,151.42 L587.31,151.42 L588.69,151.43 L590.07,151.43 L591.45,151.43 L592.83,151.44 L594.2,151.44 L595.58,151.44 L596.96,151.45 L598.34,151.45 L599.72,151.45 L601.1,151.46 L602.47,151.46 L603.85,151.47 L605.23,151.47 L606.61,151.48 L607.99,151.48 L609.37,151.49 L610.74,151.49 L612.12,151.5 L613.5,151.5 L614.88,151.51 L616.26,151.52 L617.63,151.52 L619.01,151.53 L620.39,151.53 L621.77,151.54 L623.15,151.54 L624.53,151.55 L625.9,151.55 L627.28,151.55 L628.66,151.56 L630.04,151.56 L631.42,151.57 L632.8,151.57 L634.17,151.57 L635.55,151.58 L636.93,151.58 L638.31,151.58 L639.69,151.58 L641.07,151.59 L642.45,151.59 L643.82,151.59 L645.2,151.59 L646.58,151.59 L647.96,151.6 L649.34,151.6 L650.72,151.6 L652.09,151.6 L653.47,151.6 L654.85,151.6 " fill="none" stroke="#f6921e" stroke-width="1.0" />
<line x1="572.15" y1="149.32" x2="572.15" y2="145.42" stroke="#8a5a2e" stroke-width="0.9" />
<line x1="570.95" y1="149.32" x2="573.35" y2="149.32" stroke="#8a5a2e" stroke-width="0.7" />
<line x1="570.95" y1="145.42" x2="573.35" y2="145.42" stroke="#8a5a2e" stroke-width="0.7" />
<rect x="571.15" y="146.37" width="2" height="2" fill="#8a5a2e"/>
<line x1="577.66" y1="148.97" x2="577.66" y2="145.07" stroke="#8a5a2e" stroke-width="0.9" />
<line x1="576.46" y1="148.97" x2="578.86" y2="148.97" stroke="#8a5a2e" stroke-width="0.7" />
<line x1="576.46" y1="145.07" x2="578.86" y2="145.07" stroke="#8a5a2e" stroke-width="0.7" />
<rect x="576.66" y="146.02" width="2" height="2" fill="#8a5a2e"/>
<line x1="583.18" y1="148.1" x2="583.18" y2="144.19" stroke="#8a5a2e" stroke-width="0.9" />
<line x1="581.98" y1="148.1" x2="584.38" y2="148.1" stroke="#8a5a2e" stroke-width="0.7" />
<line x1="581.98" y1="144.19" x2="584.38" y2="144.19" stroke="#8a5a2e" stroke-width="0.7" />
<rect x="582.18" y="145.15" width="2" height="2" fill="#8a5a2e"/>
<line x1="588.69" y1="148.36" x2="588.69" y2="144.45" stroke="#8a5a2e" stroke-width="0.9" />
<line x1="587.49" y1="148.36" x2="589.89" y2="148.36" stroke="#8a5a2e" stroke-width="0.7" />
<line x1="587.49" y1="144.45" x2="589.89" y2="144.45" stroke="#8a5a2e" stroke-width="0.7" />
<rect x="587.69" y="145.4" width="2" height="2" fill="#8a5a2e"/>
<line x1="594.2" y1="148.84" x2="594.2" y2="144.94" stroke="#8a5a2e" stroke-width="0.9" />
<line x1="593" y1="148.84" x2="595.4" y2="148.84" stroke="#8a5a2e" stroke-width="0.7" />
<line x1="593" y1="144.94" x2="595.4" y2="144.94" stroke="#8a5a2e" stroke-width="0.7" />
<rect x="593.2" y="145.89" width="2" height="2" fill="#8a5a2e"/>
<line x1="599.72" y1="148.16" x2="599.72" y2="144.26" stroke="#8a5a2e" stroke-width="0.9" />
<line x1="598.52" y1="148.16" x2="600.92" y2="148.16" stroke="#8a5a2e" stroke-width="0.7" />
<line x1="598.52" y1="144.26" x2="600.92" y2="144.26" stroke="#8a5a2e" stroke-width="0.7" />
<rect x="598.72" y="145.21" width="2" height="2" fill="#8a5a2e"/>
<line x1="605.23" y1="148.6" x2="605.23" y2="144.7" stroke="#8a5a2e" stroke-width="0.9" />
<line x1="604.03" y1="148.6" x2="606.43" y2="148.6" stroke="#8a5a2e" stroke-width="0.7" />
<line x1="604.03" y1="144.7" x2="606.43" y2="144.7" stroke="#8a5a2e" stroke-width="0.7" />
<rect x="604.23" y="145.65" width="2" height="2" fill="#8a5a2e"/>
<line x1="610.74" y1="148.37" x2="610.74" y2="144.46" stroke="#8a5a2e" stroke-width="0.9" />
<line x1="609.54" y1="148.37" x2="611.94" y2="148.37" stroke="#8a5a2e" stroke-width="0.7" />
<line x1="609.54" y1="144.46" x2="611.94" y2="144.46" stroke="#8a5a2e" stroke-width="0.7" />
<rect x="609.74" y="145.41" width="2" height="2" fill="#8a5a2e"/>
<line x1="616.26" y1="149.07" x2="616.26" y2="145.17" stroke="#8a5a2e" stroke-width="0.9" />
<line x1="615.06" y1="149.07" x2="617.46" y2="149.07" stroke="#8a5a2e" stroke-width="0.7" />
<line x1="615.06" y1="145.17" x2="617.46" y2="145.17" stroke="#8a5a2e" stroke-width="0.7" />
<rect x="615.26" y="146.12" width="2" height="2" fill="#8a5a2e"/>
<line x1="621.77" y1="149.23" x2="621.77" y2="145.32" stroke="#8a5a2e" stroke-width="0.9" />
<line x1="620.57" y1="149.23" x2="622.97" y2="149.23" stroke="#8a5a2e" stroke-width="0.7" />
<line x1="620.57" y1="145.32" x2="622.97" y2="145.32" stroke="#8a5a2e" stroke-width="0.7" />
<rect x="620.77" y="146.27" width="2" height="2" fill="#8a5a2e"/>
<line x1="627.28" y1="148.91" x2="627.28" y2="145.01" stroke="#8a5a2e" stroke-width="0.9" />
<line x1="626.08" y1="148.91" x2="628.48" y2="148.91" stroke="#8a5a2e" stroke-width="0.7" />
<line x1="626.08" y1="145.01" x2="628.48" y2="145.01" stroke="#8a5a2e" stroke-width="0.7" />
<rect x="626.28" y="145.96" width="2" height="2" fill="#8a5a2e"/>
<line x1="632.8" y1="149.33" x2="632.8" y2="145.42" stroke="#8a5a2e" stroke-width="0.9" />
<line x1="631.6" y1="149.33" x2="634" y2="149.33" stroke="#8a5a2e" stroke-width="0.7" />
<line x1="631.6" y1="145.42" x2="634" y2="145.42" stroke="#8a5a2e" stroke-width="0.7" />
<rect x="631.8" y="146.38" width="2" height="2" fill="#8a5a2e"/>
<line x1="638.31" y1="149.02" x2="638.31" y2="145.12" stroke="#8a5a2e" stroke-width="0.9" />
<line x1="637.11" y1="149.02" x2="639.51" y2="149.02" stroke="#8a5a2e" stroke-width="0.7" />
<line x1="637.11" y1="145.12" x2="639.51" y2="145.12" stroke="#8a5a2e" stroke-width="0.7" />
<rect x="637.31" y="146.07" width="2" height="2" fill="#8a5a2e"/>
<line x1="643.82" y1="148.28" x2="643.82" y2="144.37" stroke="#8a5a2e" stroke-width="0.9" />
<line x1="642.62" y1="148.28" x2="645.02" y2="148.28" stroke="#8a5a2e" stroke-width="0.7" />
<line x1="642.62" y1="144.37" x2="645.02" y2="144.37" stroke="#8a5a2e" stroke-width="0.7" />
<rect x="642.82" y="145.32" width="2" height="2" fill="#8a5a2e"/>
<line x1="649.34" y1="149.11" x2="649.34" y2="145.2" stroke="#8a5a2e" stroke-width="0.9" />
<line x1="648.14" y1="149.11" x2="650.54" y2="149.11" stroke="#8a5a2e" stroke-width="0.7" />
<line x1="648.14" y1="145.2" x2="650.54" y2="145.2" stroke="#8a5a2e" stroke-width="0.7" />
<rect x="648.34" y="146.15" width="2" height="2" fill="#8a5a2e"/>
<line x1="654.85" y1="149.53" x2="654.85" y2="145.62" stroke="#8a5a2e" stroke-width="0.9" />
<line x1="653.65" y1="149.53" x2="656.05" y2="149.53" stroke="#8a5a2e" stroke-width="0.7" />
<line x1="653.65" y1="145.62" x2="656.05" y2="145.62" stroke="#8a5a2e" stroke-width="0.7" />
<rect x="653.85" y="146.58" width="2" height="2" fill="#8a5a2e"/>
<path d="M572.15,146.74 L573.53,146.74 L574.91,146.74 L576.28,146.74 L577.66,146.75 L579.04,146.75 L580.42,146.75 L581.8,146.75 L583.18,146.75 L584.55,146.75 L585.93,146.76 L587.31,146.76 L588.69,146.76 L590.07,146.76 L591.45,146.77 L592.83,146.77 L594.2,146.77 L595.58,146.78 L596.96,146.78 L598.34,146.78 L599.72,146.79 L601.1,146.79 L602.47,146.8 L603.85,146.8 L605.23,146.81 L606.61,146.81 L607.99,146.82 L609.37,146.82 L610.74,146.83 L612.12,146.83 L613.5,146.84 L614.88,146.84 L616.26,146.85 L617.63,146.86 L619.01,146.86 L620.39,146.87 L621.77,146.87 L623.15,146.88 L624.53,146.88 L625.9,146.88 L627.28,146.89 L628.66,146.89 L630.04,146.9 L631.42,146.9 L632.8,146.9 L634.17,146.91 L635.55,146.91 L636.93,146.91 L638.31,146.92 L639.69,146.92 L641.07,146.92 L642.45,146.92 L643.82,146.93 L645.2,146.93 L646.58,146.93 L647.96,146.93 L649.34,146.93 L650.72,146.93 L652.09,146.94 L653.47,146.94 L654.85,146.94 " fill="none" stroke="#8a5a2e" stroke-width="1.0" />
<line x1="572.15" y1="137.07" x2="572.15" y2="133.17" stroke="#f31cf3" stroke-width="0.9" />
<line x1="570.95" y1="137.07" x2="573.35" y2="137.07" stroke="#f31cf3" stroke-width="0.7" />
<line x1="570.95" y1="133.17" x2="573.35" y2="133.17" stroke="#f31cf3" stroke-width="0.7" />
<rect x="571.15" y="134.12" width="2" height="2" fill="#f31cf3"/>
<line x1="577.66" y1="133.6" x2="577.66" y2="129.7" stroke="#f31cf3" stroke-width="0.9" />
<line x1="576.46" y1="133.6" x2="578.86" y2="133.6" stroke="#f31cf3" stroke-width="0.7" />
<line x1="576.46" y1="129.7" x2="578.86" y2="129.7" stroke="#f31cf3" stroke-width="0.7" />
<rect x="576.66" y="130.65" width="2" height="2" fill="#f31cf3"/>
<line x1="583.18" y1="136.42" x2="583.18" y2="132.52" stroke="#f31cf3" stroke-width="0.9" />
<line x1="581.98" y1="136.42" x2="584.38" y2="136.42" stroke="#f31cf3" stroke-width="0.7" />
<line x1="581.98" y1="132.52" x2="584.38" y2="132.52" stroke="#f31cf3" stroke-width="0.7" />
<rect x="582.18" y="133.47" width="2" height="2" fill="#f31cf3"/>
<line x1="588.69" y1="134.47" x2="588.69" y2="130.57" stroke="#f31cf3" stroke-width="0.9" />
<line x1="587.49" y1="134.47" x2="589.89" y2="134.47" stroke="#f31cf3" stroke-width="0.7" />
<line x1="587.49" y1="130.57" x2="589.89" y2="130.57" stroke="#f31cf3" stroke-width="0.7" />
<rect x="587.69" y="131.52" width="2" height="2" fill="#f31cf3"/>
<line x1="594.2" y1="136.84" x2="594.2" y2="132.97" stroke="#f31cf3" stroke-width="0.9" />
<line x1="593" y1="136.84" x2="595.4" y2="136.84" stroke="#f31cf3" stroke-width="0.7" />
<line x1="593" y1="132.97" x2="595.4" y2="132.97" stroke="#f31cf3" stroke-width="0.7" />
<rect x="593.2" y="133.9" width="2" height="2" fill="#f31cf3"/>
<line x1="599.72" y1="136.14" x2="599.72" y2="132.37" stroke="#f31cf3" stroke-width="0.9" />
<line x1="598.52" y1="136.14" x2="600.92" y2="136.14" stroke="#f31cf3" stroke-width="0.7" />
<line x1="598.52" y1="132.37" x2="600.92" y2="132.37" stroke="#f31cf3" stroke-width="0.7" />
<rect x="598.72" y="133.25" width="2" height="2" fill="#f31cf3"/>
<line x1="605.23" y1="135.51" x2="605.23" y2="132.13" stroke="#f31cf3" stroke-width="0.9" />
<line x1="604.03" y1="135.51" x2="606.43" y2="135.51" stroke="#f31cf3" stroke-width="0.7" />
<line x1="604.03" y1="132.13" x2="606.43" y2="132.13" stroke="#f31cf3" stroke-width="0.7" />
<rect x="604.23" y="132.82" width="2" height="2" fill="#f31cf3"/>
<line x1="610.74" y1="142.23" x2="610.74" y2="139.73" stroke="#f31cf3" stroke-width="0.9" />
<line x1="609.54" y1="142.23" x2="611.94" y2="142.23" stroke="#f31cf3" stroke-width="0.7" />
<line x1="609.54" y1="139.73" x2="611.94" y2="139.73" stroke="#f31cf3" stroke-width="0.7" />
<rect x="609.74" y="139.98" width="2" height="2" fill="#f31cf3"/>
<line x1="616.26" y1="145.52" x2="616.26" y2="143.82" stroke="#f31cf3" stroke-width="0.9" />
<line x1="615.06" y1="145.52" x2="617.46" y2="145.52" stroke="#f31cf3" stroke-width="0.7" />
<line x1="615.06" y1="143.82" x2="617.46" y2="143.82" stroke="#f31cf3" stroke-width="0.7" />
<rect x="615.26" y="143.67" width="2" height="2" fill="#f31cf3"/>
<line x1="621.77" y1="147.1" x2="621.77" y2="145.71" stroke="#f31cf3" stroke-width="0.9" />
<line x1="620.57" y1="147.1" x2="622.97" y2="147.1" stroke="#f31cf3" stroke-width="0.7" />
<line x1="620.57" y1="145.71" x2="622.97" y2="145.71" stroke="#f31cf3" stroke-width="0.7" />
<rect x="620.77" y="145.41" width="2" height="2" fill="#f31cf3"/>
<line x1="627.28" y1="147.71" x2="627.28" y2="146.4" stroke="#f31cf3" stroke-width="0.9" />
<line x1="626.08" y1="147.71" x2="628.48" y2="147.71" stroke="#f31cf3" stroke-width="0.7" />
<line x1="626.08" y1="146.4" x2="628.48" y2="146.4" stroke="#f31cf3" stroke-width="0.7" />
<rect x="626.28" y="146.06" width="2" height="2" fill="#f31cf3"/>
<line x1="632.8" y1="147.49" x2="632.8" y2="146.19" stroke="#f31cf3" stroke-width="0.9" />
<line x1="631.6" y1="147.49" x2="634" y2="147.49" stroke="#f31cf3" stroke-width="0.7" />
<line x1="631.6" y1="146.19" x2="634" y2="146.19" stroke="#f31cf3" stroke-width="0.7" />
<rect x="631.8" y="145.84" width="2" height="2" fill="#f31cf3"/>
<line x1="638.31" y1="147.48" x2="638.31" y2="146.19" stroke="#f31cf3" stroke-width="0.9" />
<line x1="637.11" y1="147.48" x2="639.51" y2="147.48" stroke="#f31cf3" stroke-width="0.7" />
<line x1="637.11" y1="146.19" x2="639.51" y2="146.19" stroke="#f31cf3" stroke-width="0.7" />
<rect x="637.31" y="145.84" width="2" height="2" fill="#f31cf3"/>
<line x1="643.82" y1="147.7" x2="643.82" y2="146.41" stroke="#f31cf3" stroke-width="0.9" />
<line x1="642.62" y1="147.7" x2="645.02" y2="147.7" stroke="#f31cf3" stroke-width="0.7" />
<line x1="642.62" y1="146.41" x2="645.02" y2="146.41" stroke="#f31cf3" stroke-width="0.7" />
<rect x="642.82" y="146.06" width="2" height="2" fill="#f31cf3"/>
<line x1="649.34" y1="147.48" x2="649.34" y2="146.19" stroke="#f31cf3" stroke-width="0.9" />
<line x1="648.14" y1="147.48" x2="650.54" y2="147.48" stroke="#f31cf3" stroke-width="0.7" />
<line x1="648.14" y1="146.19" x2="650.54" y2="146.19" stroke="#f31cf3" stroke-width="0.7" />
<rect x="648.34" y="145.84" width="2" height="2" fill="#f31cf3"/>
<line x1="654.85" y1="147.48" x2="654.85" y2="146.19" stroke="#f31cf3" stroke-width="0.9" />
<line x1="653.65" y1="147.48" x2="656.05" y2="147.48" stroke="#f31cf3" stroke-width="0.7" />
<line x1="653.65" y1="146.19" x2="656.05" y2="146.19" stroke="#f31cf3" stroke-width="0.7" />
<rect x="653.85" y="145.84" width="2" height="2" fill="#f31cf3"/>
<path d="M572.15,133.39 L573.53,133.39 L574.91,133.39 L576.28,133.39 L577.66,133.39 L579.04,133.39 L580.42,133.39 L581.8,133.39 L583.18,133.39 L584.55,133.4 L585.93,133.4 L587.31,133.41 L588.69,133.42 L590.07,133.43 L591.45,133.46 L592.83,133.49 L594.2,133.54 L595.58,133.61 L596.96,133.71 L598.34,133.86 L599.72,134.07 L601.1,134.37 L602.47,134.78 L603.85,135.34 L605.23,136.08 L606.61,137 L607.99,138.11 L609.37,139.34 L610.74,140.63 L612.12,141.88 L613.5,143.01 L614.88,143.98 L616.26,144.75 L617.63,145.34 L619.01,145.78 L620.39,146.1 L621.77,146.33 L623.15,146.49 L624.53,146.6 L625.9,146.67 L627.28,146.73 L628.66,146.76 L630.04,146.79 L631.42,146.8 L632.8,146.81 L634.17,146.82 L635.55,146.83 L636.93,146.83 L638.31,146.83 L639.69,146.84 L641.07,146.84 L642.45,146.84 L643.82,146.84 L645.2,146.84 L646.58,146.84 L647.96,146.84 L649.34,146.84 L650.72,146.84 L652.09,146.84 L653.47,146.84 L654.85,146.84 " fill="none" stroke="#f31cf3" stroke-width="1.0" />
<line x1="572.15" y1="101.92" x2="572.15" y2="96.71" stroke="#ea2227" stroke-width="0.9" />
<line x1="570.95" y1="101.92" x2="573.35" y2="101.92" stroke="#ea2227" stroke-width="0.7" />
<line x1="570.95" y1="96.71" x2="573.35" y2="96.71" stroke="#ea2227" stroke-width="0.7" />
<rect x="571.15" y="98.32" width="2" height="2" fill="#ea2227"/>
<line x1="577.66" y1="104.96" x2="577.66" y2="99.75" stroke="#ea2227" stroke-width="0.9" />
<line x1="576.46" y1="104.96" x2="578.86" y2="104.96" stroke="#ea2227" stroke-width="0.7" />
<line x1="576.46" y1="99.75" x2="578.86" y2="99.75" stroke="#ea2227" stroke-width="0.7" />
<rect x="576.66" y="101.35" width="2" height="2" fill="#ea2227"/>
<line x1="583.18" y1="105.83" x2="583.18" y2="100.62" stroke="#ea2227" stroke-width="0.9" />
<line x1="581.98" y1="105.83" x2="584.38" y2="105.83" stroke="#ea2227" stroke-width="0.7" />
<line x1="581.98" y1="100.62" x2="584.38" y2="100.62" stroke="#ea2227" stroke-width="0.7" />
<rect x="582.18" y="102.22" width="2" height="2" fill="#ea2227"/>
<line x1="588.69" y1="104.09" x2="588.69" y2="98.88" stroke="#ea2227" stroke-width="0.9" />
<line x1="587.49" y1="104.09" x2="589.89" y2="104.09" stroke="#ea2227" stroke-width="0.7" />
<line x1="587.49" y1="98.88" x2="589.89" y2="98.88" stroke="#ea2227" stroke-width="0.7" />
<rect x="587.69" y="100.49" width="2" height="2" fill="#ea2227"/>
<line x1="594.2" y1="106.91" x2="594.2" y2="101.7" stroke="#ea2227" stroke-width="0.9" />
<line x1="593" y1="106.91" x2="595.4" y2="106.91" stroke="#ea2227" stroke-width="0.7" />
<line x1="593" y1="101.7" x2="595.4" y2="101.7" stroke="#ea2227" stroke-width="0.7" />
<rect x="593.2" y="103.31" width="2" height="2" fill="#ea2227"/>
<line x1="599.72" y1="98.88" x2="599.72" y2="93.68" stroke="#ea2227" stroke-width="0.9" />
<line x1="598.52" y1="98.88" x2="600.92" y2="98.88" stroke="#ea2227" stroke-width="0.7" />
<line x1="598.52" y1="93.68" x2="600.92" y2="93.68" stroke="#ea2227" stroke-width="0.7" />
<rect x="598.72" y="95.28" width="2" height="2" fill="#ea2227"/>
<line x1="605.23" y1="105.32" x2="605.23" y2="100.25" stroke="#ea2227" stroke-width="0.9" />
<line x1="604.03" y1="105.32" x2="606.43" y2="105.32" stroke="#ea2227" stroke-width="0.7" />
<line x1="604.03" y1="100.25" x2="606.43" y2="100.25" stroke="#ea2227" stroke-width="0.7" />
<rect x="604.23" y="101.79" width="2" height="2" fill="#ea2227"/>
<line x1="610.74" y1="128.62" x2="610.74" y2="124.7" stroke="#ea2227" stroke-width="0.9" />
<line x1="609.54" y1="128.62" x2="611.94" y2="128.62" stroke="#ea2227" stroke-width="0.7" />
<line x1="609.54" y1="124.7" x2="611.94" y2="124.7" stroke="#ea2227" stroke-width="0.7" />
<rect x="609.74" y="125.66" width="2" height="2" fill="#ea2227"/>
<line x1="616.26" y1="141.59" x2="616.26" y2="139.5" stroke="#ea2227" stroke-width="0.9" />
<line x1="615.06" y1="141.59" x2="617.46" y2="141.59" stroke="#ea2227" stroke-width="0.7" />
<line x1="615.06" y1="139.5" x2="617.46" y2="139.5" stroke="#ea2227" stroke-width="0.7" />
<rect x="615.26" y="139.55" width="2" height="2" fill="#ea2227"/>
<line x1="621.77" y1="145.76" x2="621.77" y2="144.01" stroke="#ea2227" stroke-width="0.9" />
<line x1="620.57" y1="145.76" x2="622.97" y2="145.76" stroke="#ea2227" stroke-width="0.7" />
<line x1="620.57" y1="144.01" x2="622.97" y2="144.01" stroke="#ea2227" stroke-width="0.7" />
<rect x="620.77" y="143.89" width="2" height="2" fill="#ea2227"/>
<line x1="627.28" y1="147.48" x2="627.28" y2="145.76" stroke="#ea2227" stroke-width="0.9" />
<line x1="626.08" y1="147.48" x2="628.48" y2="147.48" stroke="#ea2227" stroke-width="0.7" />
<line x1="626.08" y1="145.76" x2="628.48" y2="145.76" stroke="#ea2227" stroke-width="0.7" />
<rect x="626.28" y="145.62" width="2" height="2" fill="#ea2227"/>
<line x1="632.8" y1="147.7" x2="632.8" y2="145.98" stroke="#ea2227" stroke-width="0.9" />
<line x1="631.6" y1="147.7" x2="634" y2="147.7" stroke="#ea2227" stroke-width="0.7" />
<line x1="631.6" y1="145.98" x2="634" y2="145.98" stroke="#ea2227" stroke-width="0.7" />
<rect x="631.8" y="145.84" width="2" height="2" fill="#ea2227"/>
<line x1="638.31" y1="147.7" x2="638.31" y2="145.98" stroke="#ea2227" stroke-width="0.9" />
<line x1="637.11" y1="147.7" x2="639.51" y2="147.7" stroke="#ea2227" stroke-width="0.7" />
<line x1="637.11" y1="145.98" x2="639.51" y2="145.98" stroke="#ea2227" stroke-width="0.7" />
<rect x="637.31" y="145.84" width="2" height="2" fill="#ea2227"/>
<line x1="643.82" y1="147.7" x2="643.82" y2="145.98" stroke="#ea2227" stroke-width="0.9" />
<line x1="642.62" y1="147.7" x2="645.02" y2="147.7" stroke="#ea2227" stroke-width="0.7" />
<line x1="642.62" y1="145.98" x2="645.02" y2="145.98" stroke="#ea2227" stroke-width="0.7" />
<rect x="642.82" y="145.84" width="2" height="2" fill="#ea2227"/>
<line x1="649.34" y1="147.05" x2="649.34" y2="145.33" stroke="#ea2227" stroke-width="0.9" />
<line x1="648.14" y1="147.05" x2="650.54" y2="147.05" stroke="#ea2227" stroke-width="0.7" />
<line x1="648.14" y1="145.33" x2="650.54" y2="145.33" stroke="#ea2227" stroke-width="0.7" />
<rect x="648.34" y="145.19" width="2" height="2" fill="#ea2227"/>
<line x1="654.85" y1="147.7" x2="654.85" y2="145.98" stroke="#ea2227" stroke-width="0.9" />
<line x1="653.65" y1="147.7" x2="656.05" y2="147.7" stroke="#ea2227" stroke-width="0.7" />
<line x1="653.65" y1="145.98" x2="656.05" y2="145.98" stroke="#ea2227" stroke-width="0.7" />
<rect x="653.85" y="145.84" width="2" height="2" fill="#ea2227"/>
<path d="M572.15,101.05 L573.53,101.05 L574.91,101.05 L576.28,101.05 L577.66,101.05 L579.04,101.05 L580.42,101.05 L581.8,101.05 L583.18,101.05 L584.55,101.05 L585.93,101.05 L587.31,101.05 L588.69,101.05 L590.07,101.05 L591.45,101.05 L592.83,101.06 L594.2,101.06 L595.58,101.07 L596.96,101.09 L598.34,101.12 L599.72,101.18 L601.1,101.3 L602.47,101.54 L603.85,101.99 L605.23,102.85 L606.61,104.42 L607.99,107.18 L609.37,111.65 L610.74,117.98 L612.12,125.47 L613.5,132.64 L614.88,138.26 L616.26,141.99 L617.63,144.21 L619.01,145.45 L620.39,146.12 L621.77,146.47 L623.15,146.65 L624.53,146.74 L625.9,146.79 L627.28,146.81 L628.66,146.83 L630.04,146.83 L631.42,146.84 L632.8,146.84 L634.17,146.84 L635.55,146.84 L636.93,146.84 L638.31,146.84 L639.69,146.84 L641.07,146.84 L642.45,146.84 L643.82,146.84 L645.2,146.84 L646.58,146.84 L647.96,146.84 L649.34,146.84 L650.72,146.84 L652.09,146.84 L653.47,146.84 L654.85,146.84 " fill="none" stroke="#ea2227" stroke-width="1.0" />
<line x1="572" y1="87.4" x2="572" y2="154.95" stroke="#555" stroke-width="1.1" />
<line x1="571.5" y1="154.5" x2="655.2" y2="154.5" stroke="#555" stroke-width="0.9" />
<text x="569.8" y="91.9" font-size="8.3" text-anchor="end" font-weight="normal" font-style="normal" fill="#1a1a1a" stroke="#1a1a1a" stroke-width="0.12" >30</text>
<line x1="572" y1="88.9" x2="573.3" y2="88.9" stroke="#333" stroke-width="0.7" />
<text x="569.8" y="113.6" font-size="8.3" text-anchor="end" font-weight="normal" font-style="normal" fill="#1a1a1a" stroke="#1a1a1a" stroke-width="0.12" >20</text>
<line x1="572" y1="110.6" x2="573.3" y2="110.6" stroke="#333" stroke-width="0.7" />
<text x="569.8" y="135.3" font-size="8.3" text-anchor="end" font-weight="normal" font-style="normal" fill="#1a1a1a" stroke="#1a1a1a" stroke-width="0.12" >10</text>
<line x1="572" y1="132.3" x2="573.3" y2="132.3" stroke="#333" stroke-width="0.7" />
<text x="569.8" y="156.5" font-size="8.3" text-anchor="end" font-weight="normal" font-style="normal" fill="#1a1a1a" stroke="#1a1a1a" stroke-width="0.12" >0</text>
<text x="570.05" y="163.8" font-size="8.3" text-anchor="middle" font-weight="normal" font-style="normal" fill="#1a1a1a" stroke="#1a1a1a" stroke-width="0.12" >-15</text>
<text x="584.93" y="163.8" font-size="8.3" text-anchor="middle" font-weight="normal" font-style="normal" fill="#1a1a1a" stroke="#1a1a1a" stroke-width="0.12" >-10</text>
<line x1="585.93" y1="154.5" x2="585.93" y2="153.1" stroke="#333" stroke-width="0.7" />
<text x="599.12" y="163.8" font-size="8.3" text-anchor="middle" font-weight="normal" font-style="normal" fill="#1a1a1a" stroke="#1a1a1a" stroke-width="0.12" >-5</text>
<line x1="599.72" y1="154.5" x2="599.72" y2="153.1" stroke="#333" stroke-width="0.7" />
<text x="613.5" y="163.8" font-size="8.3" text-anchor="middle" font-weight="normal" font-style="normal" fill="#1a1a1a" stroke="#1a1a1a" stroke-width="0.12" >0</text>
<line x1="613.5" y1="154.5" x2="613.5" y2="153.1" stroke="#333" stroke-width="0.7" />
<text x="627.28" y="163.8" font-size="8.3" text-anchor="middle" font-weight="normal" font-style="normal" fill="#1a1a1a" stroke="#1a1a1a" stroke-width="0.12" >5</text>
<line x1="627.28" y1="154.5" x2="627.28" y2="153.1" stroke="#333" stroke-width="0.7" />
<text x="641.07" y="163.8" font-size="8.3" text-anchor="middle" font-weight="normal" font-style="normal" fill="#1a1a1a" stroke="#1a1a1a" stroke-width="0.12" >10</text>
<line x1="641.07" y1="154.5" x2="641.07" y2="153.1" stroke="#333" stroke-width="0.7" />
<text x="654.85" y="163.8" font-size="8.3" text-anchor="middle" font-weight="normal" font-style="normal" fill="#1a1a1a" stroke="#1a1a1a" stroke-width="0.12" >15</text>
<line x1="654.85" y1="154.5" x2="654.85" y2="153.1" stroke="#333" stroke-width="0.7" />
<text transform="translate(452.4,125.4) rotate(-90)" font-size="9.8" text-anchor="middle" fill="#1a1a1a">Response (sp/s)</text>
<text x="454" y="178.2" font-size="9.2" text-anchor="start" font-weight="normal" font-style="normal" fill="#1a1a1a" stroke="#1a1a1a" stroke-width="0.12" >S1</text>
<text x="454" y="189.4" font-size="9.2" text-anchor="start" font-weight="normal" font-style="normal" fill="#1a1a1a" stroke="#1a1a1a" stroke-width="0.12" >S2</text>
<circle cx="472" cy="175" r="4.4" fill="#1a1a1a"/>
<circle cx="472" cy="185.4" r="0.5" fill="#bdbdbd" stroke="#8a8a8a" stroke-width="0.5"/>
<circle cx="485.53" cy="175" r="3.0" fill="#1a1a1a"/>
<circle cx="485.53" cy="185.4" r="1.1" fill="#bdbdbd" stroke="#8a8a8a" stroke-width="0.5"/>
<circle cx="499.07" cy="175" r="2.3" fill="#1a1a1a"/>
<circle cx="499.07" cy="185.4" r="1.6" fill="#bdbdbd" stroke="#8a8a8a" stroke-width="0.5"/>
<circle cx="526.13" cy="175" r="1.6" fill="#1a1a1a"/>
<circle cx="526.13" cy="185.4" r="2.3" fill="#bdbdbd" stroke="#8a8a8a" stroke-width="0.5"/>
<circle cx="539.67" cy="175" r="1.2" fill="#1a1a1a"/>
<circle cx="539.67" cy="185.4" r="3.1" fill="#bdbdbd" stroke="#8a8a8a" stroke-width="0.5"/>
<circle cx="553.2" cy="175" r="0.8" fill="#1a1a1a"/>
<circle cx="553.2" cy="185.4" r="4.6" fill="#bdbdbd" stroke="#8a8a8a" stroke-width="0.5"/>
<line x1="512.6" y1="170" x2="512.6" y2="189.5" stroke="#909090" stroke-width="0.8" />
<circle cx="572.35" cy="175" r="4.4" fill="#1a1a1a"/>
<circle cx="572.35" cy="185.4" r="0.5" fill="#bdbdbd" stroke="#8a8a8a" stroke-width="0.5"/>
<circle cx="586.07" cy="175" r="3.0" fill="#1a1a1a"/>
<circle cx="586.07" cy="185.4" r="1.1" fill="#bdbdbd" stroke="#8a8a8a" stroke-width="0.5"/>
<circle cx="599.78" cy="175" r="2.3" fill="#1a1a1a"/>
<circle cx="599.78" cy="185.4" r="1.6" fill="#bdbdbd" stroke="#8a8a8a" stroke-width="0.5"/>
<circle cx="627.22" cy="175" r="1.6" fill="#1a1a1a"/>
<circle cx="627.22" cy="185.4" r="2.3" fill="#bdbdbd" stroke="#8a8a8a" stroke-width="0.5"/>
<circle cx="640.93" cy="175" r="1.2" fill="#1a1a1a"/>
<circle cx="640.93" cy="185.4" r="3.1" fill="#bdbdbd" stroke="#8a8a8a" stroke-width="0.5"/>
<circle cx="654.65" cy="175" r="0.8" fill="#1a1a1a"/>
<circle cx="654.65" cy="185.4" r="4.6" fill="#bdbdbd" stroke="#8a8a8a" stroke-width="0.5"/>
<line x1="613.5" y1="170" x2="613.5" y2="189.5" stroke="#909090" stroke-width="0.8" />
<text x="563.6" y="204" font-size="9.8" text-anchor="middle" font-weight="normal" font-style="normal" fill="#1a1a1a" stroke="#1a1a1a" stroke-width="0.12" >Relative stimulus strength (S2-S1; °/s)</text>
<rect x="618.4" y="83.4" width="51.3" height="46.1" rx="2" ry="2" fill="#fff" stroke="#cfcfcf" stroke-width="0.8"/>
<path d="M626.2,89.45 L626.72,89.83 L627.24,90.22 L627.75,90.6 L628.27,90.99 L628.79,91.37 L629.3,91.76 L629.82,92.14 L630.34,92.53 L630.86,92.91 L631.38,93.3 L631.89,93.68 L632.41,94.07 L632.93,94.45 L633.44,94.83 L633.96,95.22 L634.48,95.6 L635,95.99 L635.51,96.37 L636.03,96.76 L636.55,97.14 L637.07,97.53 L637.59,97.91 L638.1,98.3 L638.62,98.68 L639.14,99.07 L639.65,99.45 L640.17,99.84 L640.69,100.22 L641.21,100.6 L641.73,100.99 L642.24,101.37 L642.76,101.76 L643.28,102.14 L643.79,102.53 L644.31,102.91 L644.83,103.3 L645.35,103.68 L645.87,104.07 L646.38,104.45 L646.9,104.84 L647.42,105.22 L647.93,105.61 L648.45,105.99 L648.97,106.37 L649.49,106.76 L650,107.14 L650.52,107.53 L651.04,107.91 L651.56,108.3 L652.07,108.68 L652.59,109.07 L653.11,109.45 L653.63,109.84 L654.14,110.22 L654.66,110.61 L655.18,110.99 L655.7,111.38 L656.21,111.76 L656.73,112.14 L657.25,112.53 L657.77,112.91 L658.28,113.3 L658.8,113.68 L659.32,114.07 L659.84,114.45 L660.36,114.84 L660.87,115.22 L661.39,115.61 L661.91,115.99 L662.42,116.38 L662.94,116.76 L663.46,117.15 L663.98,117.53 L664.5,117.92 L665.01,118.3 L665.53,118.68 L666.05,119.07 L666.56,119.45 L667.08,119.84 L667.6,120.22 " fill="none" stroke="#7a7a7a" stroke-width="0.45" />
<path d="M626.2,89.01 L626.72,89.07 L627.24,89.14 L627.75,89.21 L628.27,89.28 L628.79,89.37 L629.3,89.46 L629.82,89.55 L630.34,89.66 L630.86,89.77 L631.38,89.89 L631.89,90.02 L632.41,90.16 L632.93,90.31 L633.44,90.48 L633.96,90.65 L634.48,90.84 L635,91.04 L635.51,91.26 L636.03,91.49 L636.55,91.74 L637.07,92 L637.59,92.28 L638.1,92.58 L638.62,92.9 L639.14,93.24 L639.65,93.59 L640.17,93.97 L640.69,94.37 L641.21,94.79 L641.73,95.23 L642.24,95.69 L642.76,96.18 L643.28,96.68 L643.79,97.2 L644.31,97.75 L644.83,98.31 L645.35,98.89 L645.87,99.49 L646.38,100.1 L646.9,100.72 L647.42,101.36 L647.93,102.01 L648.45,102.66 L648.97,103.32 L649.49,103.98 L650,104.64 L650.52,105.3 L651.04,105.96 L651.56,106.61 L652.07,107.25 L652.59,107.89 L653.11,108.51 L653.63,109.11 L654.14,109.7 L654.66,110.28 L655.18,110.84 L655.7,111.37 L656.21,111.89 L656.73,112.39 L657.25,112.86 L657.77,113.32 L658.28,113.75 L658.8,114.17 L659.32,114.56 L659.84,114.93 L660.36,115.28 L660.87,115.61 L661.39,115.92 L661.91,116.22 L662.42,116.49 L662.94,116.75 L663.46,116.99 L663.98,117.22 L664.5,117.43 L665.01,117.63 L665.53,117.81 L666.05,117.98 L666.56,118.14 L667.08,118.29 L667.6,118.42 " fill="none" stroke="#1f9e4d" stroke-width="0.45" />
<path d="M626.2,88.3 L626.72,88.31 L627.24,88.32 L627.75,88.33 L628.27,88.34 L628.79,88.36 L629.3,88.38 L629.82,88.41 L630.34,88.44 L630.86,88.48 L631.38,88.53 L631.89,88.58 L632.41,88.65 L632.93,88.74 L633.44,88.84 L633.96,88.96 L634.48,89.1 L635,89.28 L635.51,89.49 L636.03,89.75 L636.55,90.05 L637.07,90.41 L637.59,90.84 L638.1,91.34 L638.62,91.92 L639.14,92.6 L639.65,93.38 L640.17,94.27 L640.69,95.27 L641.21,96.37 L641.73,97.58 L642.24,98.88 L642.76,100.25 L643.28,101.68 L643.79,103.13 L644.31,104.58 L644.83,106.01 L645.35,107.39 L645.87,108.69 L646.38,109.91 L646.9,111.03 L647.42,112.05 L647.93,112.97 L648.45,113.79 L648.97,114.52 L649.49,115.17 L650,115.74 L650.52,116.24 L651.04,116.69 L651.56,117.08 L652.07,117.43 L652.59,117.74 L653.11,118.02 L653.63,118.26 L654.14,118.48 L654.66,118.68 L655.18,118.86 L655.7,119.01 L656.21,119.15 L656.73,119.28 L657.25,119.39 L657.77,119.48 L658.28,119.57 L658.8,119.64 L659.32,119.71 L659.84,119.77 L660.36,119.82 L660.87,119.86 L661.39,119.9 L661.91,119.93 L662.42,119.96 L662.94,119.99 L663.46,120.01 L663.98,120.03 L664.5,120.04 L665.01,120.06 L665.53,120.07 L666.05,120.08 L666.56,120.09 L667.08,120.09 L667.6,120.1 " fill="none" stroke="#1f1fe0" stroke-width="0.45" />
<path d="M626.2,88.3 L626.72,88.31 L627.24,88.33 L627.75,88.35 L628.27,88.37 L628.79,88.4 L629.3,88.43 L629.82,88.47 L630.34,88.51 L630.86,88.57 L631.38,88.63 L631.89,88.7 L632.41,88.79 L632.93,88.89 L633.44,89.01 L633.96,89.15 L634.48,89.32 L635,89.51 L635.51,89.74 L636.03,90 L636.55,90.31 L637.07,90.66 L637.59,91.06 L638.1,91.53 L638.62,92.06 L639.14,92.65 L639.65,93.32 L640.17,94.07 L640.69,94.9 L641.21,95.8 L641.73,96.77 L642.24,97.82 L642.76,98.92 L643.28,100.06 L643.79,101.24 L644.31,102.44 L644.83,103.64 L645.35,104.83 L645.87,105.99 L646.38,107.11 L646.9,108.18 L647.42,109.19 L647.93,110.14 L648.45,111.03 L648.97,111.86 L649.49,112.62 L650,113.33 L650.52,113.97 L651.04,114.57 L651.56,115.12 L652.07,115.63 L652.59,116.09 L653.11,116.52 L653.63,116.91 L654.14,117.26 L654.66,117.59 L655.18,117.88 L655.7,118.15 L656.21,118.39 L656.73,118.6 L657.25,118.8 L657.77,118.97 L658.28,119.12 L658.8,119.26 L659.32,119.38 L659.84,119.48 L660.36,119.57 L660.87,119.66 L661.39,119.73 L661.91,119.79 L662.42,119.84 L662.94,119.89 L663.46,119.93 L663.98,119.96 L664.5,119.99 L665.01,120.02 L665.53,120.04 L666.05,120.06 L666.56,120.07 L667.08,120.09 L667.6,120.1 " fill="none" stroke="#9b2d96" stroke-width="0.45" />
<path d="M626.2,88.33 L626.72,88.33 L627.24,88.34 L627.75,88.35 L628.27,88.36 L628.79,88.37 L629.3,88.39 L629.82,88.41 L630.34,88.43 L630.86,88.46 L631.38,88.49 L631.89,88.53 L632.41,88.57 L632.93,88.63 L633.44,88.7 L633.96,88.78 L634.48,88.87 L635,88.99 L635.51,89.13 L636.03,89.29 L636.55,89.49 L637.07,89.72 L637.59,90 L638.1,90.33 L638.62,90.71 L639.14,91.16 L639.65,91.69 L640.17,92.3 L640.69,93.01 L641.21,93.81 L641.73,94.72 L642.24,95.73 L642.76,96.85 L643.28,98.07 L643.79,99.39 L644.31,100.78 L644.83,102.22 L645.35,103.7 L645.87,105.19 L646.38,106.66 L646.9,108.09 L647.42,109.46 L647.93,110.74 L648.45,111.93 L648.97,113.02 L649.49,114 L650,114.87 L650.52,115.64 L651.04,116.31 L651.56,116.89 L652.07,117.39 L652.59,117.82 L653.11,118.19 L653.63,118.5 L654.14,118.76 L654.66,118.98 L655.18,119.17 L655.7,119.32 L656.21,119.45 L656.73,119.56 L657.25,119.65 L657.77,119.73 L658.28,119.79 L658.8,119.84 L659.32,119.89 L659.84,119.92 L660.36,119.95 L660.87,119.98 L661.39,120 L661.91,120.02 L662.42,120.03 L662.94,120.04 L663.46,120.05 L663.98,120.06 L664.5,120.07 L665.01,120.07 L665.53,120.08 L666.05,120.08 L666.56,120.08 L667.08,120.09 L667.6,120.09 " fill="none" stroke="#b06f3d" stroke-width="0.45" />
<path d="M626.2,88.31 L626.72,88.31 L627.24,88.31 L627.75,88.32 L628.27,88.32 L628.79,88.33 L629.3,88.33 L629.82,88.34 L630.34,88.35 L630.86,88.36 L631.38,88.38 L631.89,88.4 L632.41,88.42 L632.93,88.45 L633.44,88.48 L633.96,88.53 L634.48,88.58 L635,88.65 L635.51,88.74 L636.03,88.85 L636.55,88.98 L637.07,89.14 L637.59,89.34 L638.1,89.59 L638.62,89.89 L639.14,90.26 L639.65,90.71 L640.17,91.25 L640.69,91.9 L641.21,92.66 L641.73,93.56 L642.24,94.61 L642.76,95.79 L643.28,97.13 L643.79,98.6 L644.31,100.2 L644.83,101.88 L645.35,103.62 L645.87,105.37 L646.38,107.09 L646.9,108.75 L647.42,110.3 L647.93,111.73 L648.45,113.02 L648.97,114.16 L649.49,115.15 L650,116 L650.52,116.73 L651.04,117.34 L651.56,117.85 L652.07,118.27 L652.59,118.61 L653.11,118.9 L653.63,119.13 L654.14,119.31 L654.66,119.47 L655.18,119.59 L655.7,119.69 L656.21,119.77 L656.73,119.84 L657.25,119.89 L657.77,119.93 L658.28,119.96 L658.8,119.99 L659.32,120.01 L659.84,120.03 L660.36,120.04 L660.87,120.05 L661.39,120.06 L661.91,120.07 L662.42,120.08 L662.94,120.08 L663.46,120.08 L663.98,120.09 L664.5,120.09 L665.01,120.09 L665.53,120.09 L666.05,120.09 L666.56,120.1 L667.08,120.1 L667.6,120.1 " fill="none" stroke="#f6921e" stroke-width="0.45" />
<path d="M626.2,88.3 L626.72,88.3 L627.24,88.3 L627.75,88.3 L628.27,88.3 L628.79,88.3 L629.3,88.3 L629.82,88.31 L630.34,88.31 L630.86,88.31 L631.38,88.31 L631.89,88.32 L632.41,88.32 L632.93,88.33 L633.44,88.34 L633.96,88.36 L634.48,88.38 L635,88.4 L635.51,88.44 L636.03,88.49 L636.55,88.55 L637.07,88.63 L637.59,88.74 L638.1,88.88 L638.62,89.07 L639.14,89.32 L639.65,89.65 L640.17,90.08 L640.69,90.63 L641.21,91.33 L641.73,92.22 L642.24,93.32 L642.76,94.67 L643.28,96.26 L643.79,98.11 L644.31,100.16 L644.83,102.37 L645.35,104.66 L645.87,106.92 L646.38,109.08 L646.9,111.06 L647.42,112.8 L647.93,114.3 L648.45,115.54 L648.97,116.56 L649.49,117.37 L650,118.01 L650.52,118.51 L651.04,118.89 L651.56,119.19 L652.07,119.41 L652.59,119.58 L653.11,119.71 L653.63,119.81 L654.14,119.88 L654.66,119.93 L655.18,119.98 L655.7,120.01 L656.21,120.03 L656.73,120.05 L657.25,120.06 L657.77,120.07 L658.28,120.08 L658.8,120.08 L659.32,120.09 L659.84,120.09 L660.36,120.09 L660.87,120.09 L661.39,120.1 L661.91,120.1 L662.42,120.1 L662.94,120.1 L663.46,120.1 L663.98,120.1 L664.5,120.1 L665.01,120.1 L665.53,120.1 L666.05,120.1 L666.56,120.1 L667.08,120.1 L667.6,120.1 " fill="none" stroke="#f31cf3" stroke-width="0.45" />
<path d="M626.2,88.3 L626.72,88.3 L627.24,88.3 L627.75,88.3 L628.27,88.3 L628.79,88.3 L629.3,88.3 L629.82,88.3 L630.34,88.3 L630.86,88.3 L631.38,88.3 L631.89,88.3 L632.41,88.3 L632.93,88.3 L633.44,88.3 L633.96,88.3 L634.48,88.3 L635,88.3 L635.51,88.3 L636.03,88.3 L636.55,88.3 L637.07,88.31 L637.59,88.31 L638.1,88.31 L638.62,88.32 L639.14,88.34 L639.65,88.36 L640.17,88.41 L640.69,88.47 L641.21,88.59 L641.73,88.77 L642.24,89.07 L642.76,89.55 L643.28,90.3 L643.79,91.47 L644.31,93.21 L644.83,95.66 L645.35,98.85 L645.87,102.62 L646.38,106.57 L646.9,110.24 L647.42,113.29 L647.93,115.59 L648.45,117.2 L648.97,118.28 L649.49,118.97 L650,119.4 L650.52,119.67 L651.04,119.84 L651.56,119.94 L652.07,120 L652.59,120.04 L653.11,120.06 L653.63,120.08 L654.14,120.09 L654.66,120.09 L655.18,120.1 L655.7,120.1 L656.21,120.1 L656.73,120.1 L657.25,120.1 L657.77,120.1 L658.28,120.1 L658.8,120.1 L659.32,120.1 L659.84,120.1 L660.36,120.1 L660.87,120.1 L661.39,120.1 L661.91,120.1 L662.42,120.1 L662.94,120.1 L663.46,120.1 L663.98,120.1 L664.5,120.1 L665.01,120.1 L665.53,120.1 L666.05,120.1 L666.56,120.1 L667.08,120.1 L667.6,120.1 " fill="none" stroke="#ea2227" stroke-width="0.45" />
<line x1="626.2" y1="87.8" x2="626.2" y2="120.4" stroke="#333" stroke-width="0.7" />
<line x1="625.9" y1="120.3" x2="668.1" y2="120.3" stroke="#333" stroke-width="0.8" />
<text x="624.6" y="90.9" font-size="6.9" text-anchor="end" font-weight="normal" font-style="normal" fill="#1a1a1a" stroke="#1a1a1a" stroke-width="0.12" >1</text>
<text x="624.6" y="122.2" font-size="6.9" text-anchor="end" font-weight="normal" font-style="normal" fill="#1a1a1a" stroke="#1a1a1a" stroke-width="0.12" >0</text>
<text x="624.6" y="128.3" font-size="6.9" text-anchor="middle" font-weight="normal" font-style="normal" fill="#1a1a1a" stroke="#1a1a1a" stroke-width="0.12" >-15</text>
<text x="646.7" y="128.3" font-size="6.9" text-anchor="middle" font-weight="normal" font-style="normal" fill="#1a1a1a" stroke="#1a1a1a" stroke-width="0.12" >0</text>
<text x="665.3" y="128.3" font-size="6.9" text-anchor="middle" font-weight="normal" font-style="normal" fill="#1a1a1a" stroke="#1a1a1a" stroke-width="0.12" >15</text>
<text x="428.8" y="230.2" font-size="12.8" text-anchor="start" font-weight="bold" font-style="normal" fill="#000" stroke="#000" stroke-width="0.25" >D</text>
<line x1="483.7" y1="291" x2="655.4" y2="291" stroke="#f0f0f0" stroke-width="1.2" />
<line x1="483.7" y1="290.2" x2="532" y2="290.2" stroke="#e3e3e3" stroke-width="0.9" />
<line x1="543.6" y1="272" x2="655.4" y2="272" stroke="#d9a3dc" stroke-width="1.0" stroke-dasharray="1.2 1"/>
<line x1="523.6" y1="288.5" x2="655.4" y2="288.5" stroke="#35a860" stroke-width="0.8" stroke-dasharray="1.6 0.9"/>
<polygon points="503.3,260 502.9,268 502.6,275 502.1,279 500.7,282.5 500.2,287.8 500.1,290.5 500.3,294 500.6,297 501.8,302 502.8,305.8 503.35,309.5 503.85,309.5 504.4,305.8 505.4,302 506.6,297 506.9,294 507.1,290.5 507,287.8 506.5,282.5 505.1,279 504.6,275 504.3,268 503.9,260" fill="#808080"/>
<line x1="500.2" y1="290.2" x2="507" y2="290.2" stroke="#f2f2f2" stroke-width="0.8" />
<polygon points="523.35,267.2 522.6,273.5 521.6,279 520.6,282.5 520,286 520.1,289 520.9,293 521.6,298.6 522.3,304 523,309 523.35,314.3 523.85,314.3 524.2,309 524.9,304 525.6,298.6 526.3,293 527.1,289 527.2,286 526.6,282.5 525.6,279 524.6,273.5 523.85,267.2" fill="#15964a"/>
<line x1="520.2" y1="288.3" x2="527" y2="288.3" stroke="#f2f2f2" stroke-width="0.8" />
<polygon points="543.4,254.7 543.15,264.5 542,267 540.2,270 540.3,272 541.3,273.5 542.4,277 542.9,281.6 543.4,288.5 543.8,288.5 544.3,281.6 544.8,277 545.9,273.5 546.9,272 547,270 545.2,267 544.05,264.5 543.8,254.7" fill="#962a96"/>
<line x1="540.2" y1="271.2" x2="547" y2="271.2" stroke="#f2f2f2" stroke-width="0.8" />
<polygon points="563.7,256.3 563.2,258.3 562.2,259.8 560.5,261 560.6,262.8 562.3,264.2 562.9,266 563.2,268.5 563.8,272.7 564.2,272.7 564.8,268.5 565.1,266 565.7,264.2 567.4,262.8 567.5,261 565.8,259.8 564.8,258.3 564.3,256.3" fill="#2222e0"/>
<line x1="560.6" y1="261.8" x2="567.4" y2="261.8" stroke="#f2f2f2" stroke-width="0.8" />
<polygon points="583.75,273.8 583,280 582,285.4 581,288 580.5,289.8 581,292.7 581.9,296 582.5,299 583.3,305.4 583.75,309.8 584.25,309.8 584.7,305.4 585.5,299 586.1,296 587,292.7 587.5,289.8 587,288 586,285.4 585,280 584.25,273.8" fill="#f29222"/>
<line x1="580.6" y1="290.6" x2="587.4" y2="290.6" stroke="#f2f2f2" stroke-width="0.8" />
<polygon points="603.75,272.7 602.9,280 602.1,285.4 601.1,288 600.6,289.8 601,292.7 601.9,296 602.5,299 603.2,305.4 603.75,310.7 604.25,310.7 604.8,305.4 605.5,299 606.1,296 607,292.7 607.4,289.8 606.9,288 605.9,285.4 605.1,280 604.25,272.7" fill="#8a5a2e"/>
<line x1="600.6" y1="290.6" x2="607.4" y2="290.6" stroke="#f2f2f2" stroke-width="0.8" />
<polygon points="623.7,254.3 622.5,259 621.5,263.2 620.6,266 620.5,268 621.2,269.5 621.8,271.6 623,275.9 623.55,280 623.8,285.6 624.2,285.6 624.45,280 625,275.9 626.2,271.6 626.8,269.5 627.5,268 627.4,266 626.5,263.2 625.5,259 624.3,254.3" fill="#f51df5"/>
<line x1="620.6" y1="267.5" x2="627.4" y2="267.5" stroke="#f2f2f2" stroke-width="0.8" />
<polygon points="644.25,247.4 643.8,250.5 642.7,252.2 641,253.5 641.1,255.3 642.9,256.6 643.5,258 644.05,261 644.3,265.3 644.7,265.3 644.95,261 645.5,258 646.1,256.6 647.9,255.3 648,253.5 646.3,252.2 645.2,250.5 644.75,247.4" fill="#e8262a"/>
<line x1="641.1" y1="254.8" x2="647.9" y2="254.8" stroke="#f2f2f2" stroke-width="0.8" />
<line x1="644.5" y1="254.6" x2="655.4" y2="254.6" stroke="#ee5a5e" stroke-width="0.7" />
<line x1="483.7" y1="225" x2="483.7" y2="315.85" stroke="#555" stroke-width="1.1" />
<line x1="655.4" y1="224.8" x2="655.4" y2="315.85" stroke="#6a6a6a" stroke-width="1.1" />
<line x1="483.2" y1="315.4" x2="567.5" y2="315.4" stroke="#555" stroke-width="0.9" />
<line x1="577" y1="315.4" x2="655.9" y2="315.4" stroke="#555" stroke-width="0.9" />
<line x1="483.7" y1="238.5" x2="485.7" y2="238.5" stroke="#777" stroke-width="0.8" />
<text x="480.5" y="241.5" font-size="8.4" text-anchor="end" font-weight="normal" font-style="normal" fill="#1a1a1a" stroke="#1a1a1a" stroke-width="0.12" >1</text>
<line x1="483.7" y1="251.25" x2="485.7" y2="251.25" stroke="#777" stroke-width="0.8" />
<text x="480.5" y="254.25" font-size="8.4" text-anchor="end" font-weight="normal" font-style="normal" fill="#1a1a1a" stroke="#1a1a1a" stroke-width="0.12" >0.75</text>
<line x1="483.7" y1="264" x2="485.7" y2="264" stroke="#777" stroke-width="0.8" />
<text x="480.5" y="267" font-size="8.4" text-anchor="end" font-weight="normal" font-style="normal" fill="#1a1a1a" stroke="#1a1a1a" stroke-width="0.12" >0.5</text>
<line x1="483.7" y1="276.75" x2="485.7" y2="276.75" stroke="#777" stroke-width="0.8" />
<text x="480.5" y="279.75" font-size="8.4" text-anchor="end" font-weight="normal" font-style="normal" fill="#1a1a1a" stroke="#1a1a1a" stroke-width="0.12" >0.25</text>
<line x1="483.7" y1="289.5" x2="485.7" y2="289.5" stroke="#777" stroke-width="0.8" />
<text x="480.5" y="292.5" font-size="8.4" text-anchor="end" font-weight="normal" font-style="normal" fill="#1a1a1a" stroke="#1a1a1a" stroke-width="0.12" >0</text>
<line x1="483.7" y1="302.25" x2="485.7" y2="302.25" stroke="#777" stroke-width="0.8" />
<text x="480.5" y="305.25" font-size="8.4" text-anchor="end" font-weight="normal" font-style="normal" fill="#1a1a1a" stroke="#1a1a1a" stroke-width="0.12" >-0.25</text>
<text x="480.5" y="317.4" font-size="8.4" text-anchor="end" font-weight="normal" font-style="normal" fill="#1a1a1a" stroke="#1a1a1a" stroke-width="0.12" >-0.5</text>
<line x1="503.6" y1="315.4" x2="503.6" y2="313.7" stroke="#777" stroke-width="0.8" />
<line x1="523.6" y1="315.4" x2="523.6" y2="313.7" stroke="#777" stroke-width="0.8" />
<line x1="543.6" y1="315.4" x2="543.6" y2="313.7" stroke="#777" stroke-width="0.8" />
<line x1="564" y1="315.4" x2="564" y2="313.7" stroke="#777" stroke-width="0.8" />
<line x1="584" y1="315.4" x2="584" y2="313.7" stroke="#777" stroke-width="0.8" />
<line x1="604" y1="315.4" x2="604" y2="313.7" stroke="#777" stroke-width="0.8" />
<line x1="624" y1="315.4" x2="624" y2="313.7" stroke="#777" stroke-width="0.8" />
<line x1="644.5" y1="315.4" x2="644.5" y2="313.7" stroke="#777" stroke-width="0.8" />
<text transform="translate(447.4,269.5) rotate(-90)" font-size="9.9" text-anchor="middle" fill="#1a1a1a">Categorization</text>
<text transform="translate(458.2,269.5) rotate(-90)" font-size="9.9" text-anchor="middle" fill="#1a1a1a">index (CatI)</text>
<text transform="translate(683.2,274) rotate(-90)" font-size="9.6" text-anchor="middle" fill="#1a1a1a">CatI (% max)</text>
<text x="658.4" y="258.6" font-size="9.3" text-anchor="start" font-weight="normal" font-style="normal" fill="#ea2227" stroke="#ea2227" stroke-width="0.12" >100</text>
<text x="658.4" y="275.8" font-size="9.3" text-anchor="start" font-weight="normal" font-style="normal" fill="#a12fa3" stroke="#a12fa3" stroke-width="0.12" >51</text>
<text x="659" y="291.8" font-size="9.3" text-anchor="start" font-weight="normal" font-style="normal" fill="#1f9e4d" stroke="#1f9e4d" stroke-width="0.12" >5</text>
<path d="M506.5,248.2 H523 M514.4,248.2 V243 H540.6 V246.6" fill="none" stroke="#777" stroke-width="0.7" />
<path d="M546,246.6 V243 H594.4 V248.2 M584,248.2 H604" fill="none" stroke="#777" stroke-width="0.7" />
<g stroke="#222" stroke-width="0.9"><line x1="531.4" y1="234.4" x2="531.4" y2="240.8"/><line x1="528.5" y1="236.0" x2="534.3" y2="239.2"/><line x1="528.5" y1="239.2" x2="534.3" y2="236.0"/></g>
<g stroke="#222" stroke-width="0.9"><line x1="576.4" y1="234.4" x2="576.4" y2="240.8"/><line x1="573.5" y1="236.0" x2="579.3" y2="239.2"/><line x1="573.5" y1="239.2" x2="579.3" y2="236.0"/></g>
<text transform="translate(505.4,321.6) rotate(-45)" font-size="9.7" text-anchor="end" fill="#1a1a1a" stroke="#1a1a1a" stroke-width="0.1">Baseline</text>
<text transform="translate(529.8,321.2) rotate(-45)" font-size="10.0" text-anchor="end" fill="#1f9e4d" stroke="#1f9e4d" stroke-width="0.1">Feedback</text>
<text transform="translate(548,322.4) rotate(-45)" font-size="10.0" text-anchor="end" fill="#a12fa3" stroke="#a12fa3" stroke-width="0.1">Donut</text>
<text transform="translate(568.6,322) rotate(-45)" font-size="10.0" text-anchor="end" fill="#2a22e6" stroke="#2a22e6" stroke-width="0.1">Donut + FB</text>
<text transform="translate(587.8,321.8) rotate(-45)" font-size="9.8" text-anchor="end" fill="#f6921e" stroke="#f6921e" stroke-width="0.1">Ipc recurrence</text>
<text transform="translate(608.6,321.8) rotate(-45)" font-size="10.0" text-anchor="end" fill="#96683e" stroke="#96683e" stroke-width="0.1">FB + Ipc recurr</text>
<text transform="translate(626.8,321.8) rotate(-45)" font-size="10.0" text-anchor="end" fill="#f31cf3" stroke="#f31cf3" stroke-width="0.1">Donut + Ipc recurr</text>
<text transform="translate(647.3,321.8) rotate(-45)" font-size="10.0" text-anchor="end" fill="#ea2227" stroke="#ea2227" stroke-width="0.1">FB + Ipc recurr</text>
<text transform="translate(655.9,326.2) rotate(-45)" font-size="10" text-anchor="end" fill="#ea2227" stroke="#ea2227" stroke-width="0.1">+Donut</text>
</svg>
</body></html>
